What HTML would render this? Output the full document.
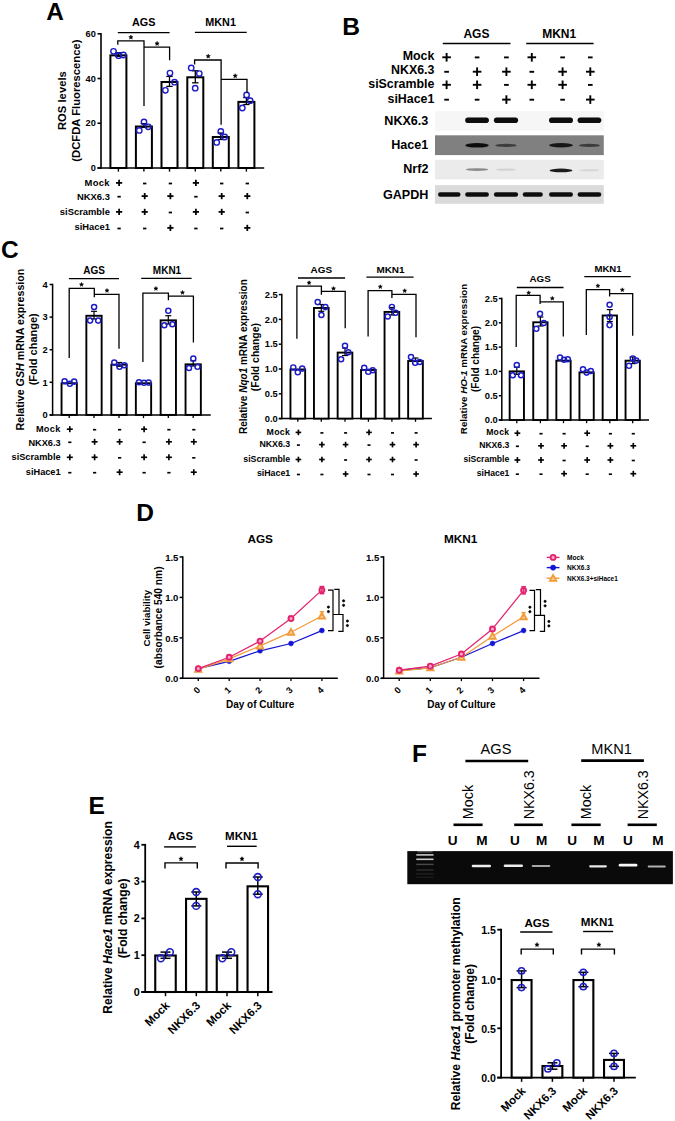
<!DOCTYPE html>
<html><head><meta charset="utf-8"><title>Figure</title>
<style>
html,body{margin:0;padding:0;background:#fff;}
body{width:675px;height:1121px;overflow:hidden;}
svg{display:block;font-family:"Liberation Sans", sans-serif;}
</style></head><body>
<svg width="675" height="1121" viewBox="0 0 675 1121">
<defs><filter id="gb" x="-0.1" y="-0.5" width="1.2" height="2"><feGaussianBlur stdDeviation="0.45"/></filter></defs>
<rect x="0" y="0" width="675" height="1121" fill="#fff"/>
<text x="46.3" y="19.5" font-size="24.4" font-weight="bold">A</text>
<line x1="101" y1="32.98" x2="101" y2="168.8" stroke="#000" stroke-width="1.6"/>
<line x1="97.5" y1="168" x2="101" y2="168" stroke="#000" stroke-width="1.6"/>
<text x="95.8" y="171.22" font-size="9.2" text-anchor="end" font-weight="bold">0</text>
<line x1="97.5" y1="123.26" x2="101" y2="123.26" stroke="#000" stroke-width="1.6"/>
<text x="95.8" y="126.48" font-size="9.2" text-anchor="end" font-weight="bold">20</text>
<line x1="97.5" y1="78.52" x2="101" y2="78.52" stroke="#000" stroke-width="1.6"/>
<text x="95.8" y="81.74" font-size="9.2" text-anchor="end" font-weight="bold">40</text>
<line x1="97.5" y1="33.78" x2="101" y2="33.78" stroke="#000" stroke-width="1.6"/>
<text x="95.8" y="37" font-size="9.2" text-anchor="end" font-weight="bold">60</text>
<line x1="97.5" y1="168" x2="264.2" y2="168" stroke="#000" stroke-width="1.6"/>
<line x1="118.4" y1="168" x2="118.4" y2="171.6" stroke="#000" stroke-width="1.4"/>
<line x1="143.9" y1="168" x2="143.9" y2="171.6" stroke="#000" stroke-width="1.4"/>
<line x1="169.5" y1="168" x2="169.5" y2="171.6" stroke="#000" stroke-width="1.4"/>
<line x1="195.3" y1="168" x2="195.3" y2="171.6" stroke="#000" stroke-width="1.4"/>
<line x1="220.8" y1="168" x2="220.8" y2="171.6" stroke="#000" stroke-width="1.4"/>
<line x1="246.4" y1="168" x2="246.4" y2="171.6" stroke="#000" stroke-width="1.4"/>
<rect x="110.4" y="55.36" width="16" height="112.64" fill="#fff" stroke="#000" stroke-width="2"/>
<rect x="135.9" y="126.5" width="16" height="41.5" fill="#fff" stroke="#000" stroke-width="2"/>
<rect x="161.5" y="81.98" width="16" height="86.02" fill="#fff" stroke="#000" stroke-width="2"/>
<rect x="187.3" y="77.28" width="16" height="90.72" fill="#fff" stroke="#000" stroke-width="2"/>
<rect x="212.8" y="137.01" width="16" height="30.99" fill="#fff" stroke="#000" stroke-width="2"/>
<rect x="238.4" y="101.89" width="16" height="66.11" fill="#fff" stroke="#000" stroke-width="2"/>
<line x1="118.4" y1="52.7" x2="118.4" y2="56.3" stroke="#000" stroke-width="1.3"/>
<line x1="115.2" y1="52.7" x2="121.6" y2="52.7" stroke="#000" stroke-width="1.3"/>
<line x1="115.2" y1="56.3" x2="121.6" y2="56.3" stroke="#000" stroke-width="1.3"/>
<line x1="143.9" y1="123.6" x2="143.9" y2="127.4" stroke="#000" stroke-width="1.3"/>
<line x1="140.7" y1="123.6" x2="147.1" y2="123.6" stroke="#000" stroke-width="1.3"/>
<line x1="140.7" y1="127.4" x2="147.1" y2="127.4" stroke="#000" stroke-width="1.3"/>
<line x1="169.5" y1="76.4" x2="169.5" y2="86.4" stroke="#000" stroke-width="1.3"/>
<line x1="166.3" y1="76.4" x2="172.7" y2="76.4" stroke="#000" stroke-width="1.3"/>
<line x1="166.3" y1="86.4" x2="172.7" y2="86.4" stroke="#000" stroke-width="1.3"/>
<line x1="195.3" y1="70.8" x2="195.3" y2="82.8" stroke="#000" stroke-width="1.3"/>
<line x1="192.1" y1="70.8" x2="198.5" y2="70.8" stroke="#000" stroke-width="1.3"/>
<line x1="192.1" y1="82.8" x2="198.5" y2="82.8" stroke="#000" stroke-width="1.3"/>
<line x1="220.8" y1="133" x2="220.8" y2="139.5" stroke="#000" stroke-width="1.3"/>
<line x1="217.6" y1="133" x2="224" y2="133" stroke="#000" stroke-width="1.3"/>
<line x1="217.6" y1="139.5" x2="224" y2="139.5" stroke="#000" stroke-width="1.3"/>
<line x1="246.4" y1="97.6" x2="246.4" y2="104.5" stroke="#000" stroke-width="1.3"/>
<line x1="243.2" y1="97.6" x2="249.6" y2="97.6" stroke="#000" stroke-width="1.3"/>
<line x1="243.2" y1="104.5" x2="249.6" y2="104.5" stroke="#000" stroke-width="1.3"/>
<circle cx="113.5" cy="51.3" r="2.7" stroke="#1c1cc8" stroke-width="1.4" fill="none"/>
<circle cx="118.6" cy="55.7" r="2.7" stroke="#1c1cc8" stroke-width="1.4" fill="none"/>
<circle cx="123.4" cy="55" r="2.7" stroke="#1c1cc8" stroke-width="1.4" fill="none"/>
<circle cx="139.3" cy="130.4" r="2.7" stroke="#1c1cc8" stroke-width="1.4" fill="none"/>
<circle cx="144" cy="121.9" r="2.7" stroke="#1c1cc8" stroke-width="1.4" fill="none"/>
<circle cx="148.3" cy="126.8" r="2.7" stroke="#1c1cc8" stroke-width="1.4" fill="none"/>
<circle cx="165.4" cy="90.3" r="2.7" stroke="#1c1cc8" stroke-width="1.4" fill="none"/>
<circle cx="170" cy="73.1" r="2.7" stroke="#1c1cc8" stroke-width="1.4" fill="none"/>
<circle cx="174.5" cy="82.2" r="2.7" stroke="#1c1cc8" stroke-width="1.4" fill="none"/>
<circle cx="191.2" cy="67.9" r="2.7" stroke="#1c1cc8" stroke-width="1.4" fill="none"/>
<circle cx="199.3" cy="73.6" r="2.7" stroke="#1c1cc8" stroke-width="1.4" fill="none"/>
<circle cx="195.2" cy="88.2" r="2.7" stroke="#1c1cc8" stroke-width="1.4" fill="none"/>
<circle cx="220.8" cy="131.5" r="2.7" stroke="#1c1cc8" stroke-width="1.4" fill="none"/>
<circle cx="224.7" cy="137" r="2.7" stroke="#1c1cc8" stroke-width="1.4" fill="none"/>
<circle cx="216.7" cy="142.4" r="2.7" stroke="#1c1cc8" stroke-width="1.4" fill="none"/>
<circle cx="246.6" cy="94.9" r="2.7" stroke="#1c1cc8" stroke-width="1.4" fill="none"/>
<circle cx="250.2" cy="100.7" r="2.7" stroke="#1c1cc8" stroke-width="1.4" fill="none"/>
<circle cx="242.3" cy="108" r="2.7" stroke="#1c1cc8" stroke-width="1.4" fill="none"/>
<text x="143.7" y="26.3" font-size="10.8" text-anchor="middle" font-weight="bold">AGS</text>
<text x="220.6" y="26.3" font-size="10.8" text-anchor="middle" font-weight="bold">MKN1</text>
<line x1="117.8" y1="32.6" x2="169.6" y2="32.6" stroke="#000" stroke-width="1.3"/>
<line x1="194.9" y1="32.3" x2="246.7" y2="32.3" stroke="#000" stroke-width="1.3"/>
<path d="M117.8 44.8 L117.8 40.9 L144 40.9 L144 106" stroke="#000" stroke-width="1.3" fill="none" stroke-linejoin="miter"/>
<path d="M144 47.1 L144 47.1 L169.6 47.1 L169.6 60.2" stroke="#000" stroke-width="1.3" fill="none" stroke-linejoin="miter"/>
<path d="M194.6 64.6 L194.6 60 L221.1 60 L221.1 124.8" stroke="#000" stroke-width="1.3" fill="none" stroke-linejoin="miter"/>
<path d="M221.1 79.3 L221.1 79.3 L247 79.3 L247 92.8" stroke="#000" stroke-width="1.3" fill="none" stroke-linejoin="miter"/>
<path d="M130.9 35.06 L131.49 36.48 L133.03 36.61 L131.86 37.61 L132.22 39.11 L130.9 38.31 L129.58 39.11 L129.94 37.61 L128.77 36.61 L130.31 36.48 Z" stroke="#000" stroke-width="0.5" fill="#000" stroke-linejoin="miter"/>
<path d="M157.1 41.36 L157.69 42.78 L159.23 42.91 L158.06 43.91 L158.42 45.41 L157.1 44.61 L155.78 45.41 L156.14 43.91 L154.97 42.91 L156.51 42.78 Z" stroke="#000" stroke-width="0.5" fill="#000" stroke-linejoin="miter"/>
<path d="M208.2 54.06 L208.79 55.48 L210.33 55.61 L209.16 56.61 L209.52 58.11 L208.2 57.31 L206.88 58.11 L207.24 56.61 L206.07 55.61 L207.61 55.48 Z" stroke="#000" stroke-width="0.5" fill="#000" stroke-linejoin="miter"/>
<path d="M235.2 73.66 L235.79 75.08 L237.33 75.21 L236.16 76.21 L236.52 77.71 L235.2 76.91 L233.88 77.71 L234.24 76.21 L233.07 75.21 L234.61 75.08 Z" stroke="#000" stroke-width="0.5" fill="#000" stroke-linejoin="miter"/>
<text x="65.8" y="100.6" font-size="11.25" text-anchor="middle" font-weight="bold" transform="rotate(-90 65.8 100.6)">ROS levels</text>
<text x="79.8" y="100.6" font-size="11.25" text-anchor="middle" font-weight="bold" transform="rotate(-90 79.8 100.6)">(DCFDA Fluorescence)</text>
<text x="109.9" y="185.8" font-size="9.4" text-anchor="end" font-weight="bold" letter-spacing="0.35">Mock</text>
<text x="109.9" y="199.6" font-size="9.4" text-anchor="end" font-weight="bold">NKX6.3</text>
<text x="109.9" y="214.8" font-size="9.4" text-anchor="end" font-weight="bold">siScramble</text>
<text x="109.9" y="230.4" font-size="9.4" text-anchor="end" font-weight="bold">siHace1</text>
<line x1="116" y1="182.9" x2="122.2" y2="182.9" stroke="#000" stroke-width="1.75"/>
<line x1="119.1" y1="179.8" x2="119.1" y2="186" stroke="#000" stroke-width="1.75"/>
<line x1="143.03" y1="183.5" x2="146.37" y2="183.5" stroke="#000" stroke-width="1.75"/>
<line x1="168.73" y1="183.5" x2="172.07" y2="183.5" stroke="#000" stroke-width="1.75"/>
<line x1="192.8" y1="182.9" x2="199" y2="182.9" stroke="#000" stroke-width="1.75"/>
<line x1="195.9" y1="179.8" x2="195.9" y2="186" stroke="#000" stroke-width="1.75"/>
<line x1="220.03" y1="183.5" x2="223.37" y2="183.5" stroke="#000" stroke-width="1.75"/>
<line x1="245.63" y1="183.5" x2="248.97" y2="183.5" stroke="#000" stroke-width="1.75"/>
<line x1="117.43" y1="196.7" x2="120.77" y2="196.7" stroke="#000" stroke-width="1.75"/>
<line x1="141.6" y1="196.1" x2="147.8" y2="196.1" stroke="#000" stroke-width="1.75"/>
<line x1="144.7" y1="193" x2="144.7" y2="199.2" stroke="#000" stroke-width="1.75"/>
<line x1="167.3" y1="196.1" x2="173.5" y2="196.1" stroke="#000" stroke-width="1.75"/>
<line x1="170.4" y1="193" x2="170.4" y2="199.2" stroke="#000" stroke-width="1.75"/>
<line x1="194.23" y1="196.7" x2="197.57" y2="196.7" stroke="#000" stroke-width="1.75"/>
<line x1="218.6" y1="196.1" x2="224.8" y2="196.1" stroke="#000" stroke-width="1.75"/>
<line x1="221.7" y1="193" x2="221.7" y2="199.2" stroke="#000" stroke-width="1.75"/>
<line x1="244.2" y1="196.1" x2="250.4" y2="196.1" stroke="#000" stroke-width="1.75"/>
<line x1="247.3" y1="193" x2="247.3" y2="199.2" stroke="#000" stroke-width="1.75"/>
<line x1="116" y1="211.9" x2="122.2" y2="211.9" stroke="#000" stroke-width="1.75"/>
<line x1="119.1" y1="208.8" x2="119.1" y2="215" stroke="#000" stroke-width="1.75"/>
<line x1="141.6" y1="211.9" x2="147.8" y2="211.9" stroke="#000" stroke-width="1.75"/>
<line x1="144.7" y1="208.8" x2="144.7" y2="215" stroke="#000" stroke-width="1.75"/>
<line x1="168.73" y1="212.5" x2="172.07" y2="212.5" stroke="#000" stroke-width="1.75"/>
<line x1="192.8" y1="211.9" x2="199" y2="211.9" stroke="#000" stroke-width="1.75"/>
<line x1="195.9" y1="208.8" x2="195.9" y2="215" stroke="#000" stroke-width="1.75"/>
<line x1="218.6" y1="211.9" x2="224.8" y2="211.9" stroke="#000" stroke-width="1.75"/>
<line x1="221.7" y1="208.8" x2="221.7" y2="215" stroke="#000" stroke-width="1.75"/>
<line x1="245.63" y1="212.5" x2="248.97" y2="212.5" stroke="#000" stroke-width="1.75"/>
<line x1="117.43" y1="228.5" x2="120.77" y2="228.5" stroke="#000" stroke-width="1.75"/>
<line x1="143.03" y1="228.5" x2="146.37" y2="228.5" stroke="#000" stroke-width="1.75"/>
<line x1="167.3" y1="227.9" x2="173.5" y2="227.9" stroke="#000" stroke-width="1.75"/>
<line x1="170.4" y1="224.8" x2="170.4" y2="231" stroke="#000" stroke-width="1.75"/>
<line x1="194.23" y1="228.5" x2="197.57" y2="228.5" stroke="#000" stroke-width="1.75"/>
<line x1="220.03" y1="228.5" x2="223.37" y2="228.5" stroke="#000" stroke-width="1.75"/>
<line x1="244.2" y1="227.9" x2="250.4" y2="227.9" stroke="#000" stroke-width="1.75"/>
<line x1="247.3" y1="224.8" x2="247.3" y2="231" stroke="#000" stroke-width="1.75"/>
<text x="342.3" y="34.6" font-size="24.6" font-weight="bold">B</text>
<text x="476.4" y="37.8" font-size="12" text-anchor="middle" font-weight="bold">AGS</text>
<text x="559.2" y="37.6" font-size="12" text-anchor="middle" font-weight="bold">MKN1</text>
<line x1="442.8" y1="43.5" x2="510.5" y2="43.5" stroke="#000" stroke-width="1.5"/>
<line x1="526.2" y1="43.4" x2="593.6" y2="43.4" stroke="#000" stroke-width="1.5"/>
<text x="434.4" y="59.5" font-size="12.4" text-anchor="end" font-weight="bold">Mock</text>
<text x="434.4" y="73.8" font-size="12.4" text-anchor="end" font-weight="bold">NKX6.3</text>
<text x="434.4" y="88" font-size="12.4" text-anchor="end" font-weight="bold">siScramble</text>
<text x="434.4" y="102.7" font-size="12.4" text-anchor="end" font-weight="bold">siHace1</text>
<line x1="442.3" y1="57.3" x2="450.9" y2="57.3" stroke="#000" stroke-width="1.9"/>
<line x1="446.6" y1="53" x2="446.6" y2="61.6" stroke="#000" stroke-width="1.9"/>
<line x1="474.78" y1="57.4" x2="479.42" y2="57.4" stroke="#000" stroke-width="1.9"/>
<line x1="504.08" y1="57.4" x2="508.72" y2="57.4" stroke="#000" stroke-width="1.9"/>
<line x1="527.5" y1="57.3" x2="536.1" y2="57.3" stroke="#000" stroke-width="1.9"/>
<line x1="531.8" y1="53" x2="531.8" y2="61.6" stroke="#000" stroke-width="1.9"/>
<line x1="560.28" y1="57.4" x2="564.92" y2="57.4" stroke="#000" stroke-width="1.9"/>
<line x1="587.98" y1="57.4" x2="592.62" y2="57.4" stroke="#000" stroke-width="1.9"/>
<line x1="444.28" y1="71.8" x2="448.92" y2="71.8" stroke="#000" stroke-width="1.9"/>
<line x1="472.8" y1="71.7" x2="481.4" y2="71.7" stroke="#000" stroke-width="1.9"/>
<line x1="477.1" y1="67.4" x2="477.1" y2="76" stroke="#000" stroke-width="1.9"/>
<line x1="502.1" y1="71.7" x2="510.7" y2="71.7" stroke="#000" stroke-width="1.9"/>
<line x1="506.4" y1="67.4" x2="506.4" y2="76" stroke="#000" stroke-width="1.9"/>
<line x1="529.48" y1="71.8" x2="534.12" y2="71.8" stroke="#000" stroke-width="1.9"/>
<line x1="558.3" y1="71.7" x2="566.9" y2="71.7" stroke="#000" stroke-width="1.9"/>
<line x1="562.6" y1="67.4" x2="562.6" y2="76" stroke="#000" stroke-width="1.9"/>
<line x1="586" y1="71.7" x2="594.6" y2="71.7" stroke="#000" stroke-width="1.9"/>
<line x1="590.3" y1="67.4" x2="590.3" y2="76" stroke="#000" stroke-width="1.9"/>
<line x1="442.3" y1="84.8" x2="450.9" y2="84.8" stroke="#000" stroke-width="1.9"/>
<line x1="446.6" y1="80.5" x2="446.6" y2="89.1" stroke="#000" stroke-width="1.9"/>
<line x1="472.8" y1="84.8" x2="481.4" y2="84.8" stroke="#000" stroke-width="1.9"/>
<line x1="477.1" y1="80.5" x2="477.1" y2="89.1" stroke="#000" stroke-width="1.9"/>
<line x1="504.08" y1="84.9" x2="508.72" y2="84.9" stroke="#000" stroke-width="1.9"/>
<line x1="527.5" y1="84.8" x2="536.1" y2="84.8" stroke="#000" stroke-width="1.9"/>
<line x1="531.8" y1="80.5" x2="531.8" y2="89.1" stroke="#000" stroke-width="1.9"/>
<line x1="558.3" y1="84.8" x2="566.9" y2="84.8" stroke="#000" stroke-width="1.9"/>
<line x1="562.6" y1="80.5" x2="562.6" y2="89.1" stroke="#000" stroke-width="1.9"/>
<line x1="587.98" y1="84.9" x2="592.62" y2="84.9" stroke="#000" stroke-width="1.9"/>
<line x1="444.28" y1="99.7" x2="448.92" y2="99.7" stroke="#000" stroke-width="1.9"/>
<line x1="474.78" y1="99.7" x2="479.42" y2="99.7" stroke="#000" stroke-width="1.9"/>
<line x1="502.1" y1="99.6" x2="510.7" y2="99.6" stroke="#000" stroke-width="1.9"/>
<line x1="506.4" y1="95.3" x2="506.4" y2="103.9" stroke="#000" stroke-width="1.9"/>
<line x1="529.48" y1="99.7" x2="534.12" y2="99.7" stroke="#000" stroke-width="1.9"/>
<line x1="560.28" y1="99.7" x2="564.92" y2="99.7" stroke="#000" stroke-width="1.9"/>
<line x1="586" y1="99.6" x2="594.6" y2="99.6" stroke="#000" stroke-width="1.9"/>
<line x1="590.3" y1="95.3" x2="590.3" y2="103.9" stroke="#000" stroke-width="1.9"/>
<rect x="435" y="111.3" width="168.8" height="19.4" fill="#f6f6f6"/>
<rect x="435" y="135.3" width="168.8" height="19.8" fill="#808080"/>
<rect x="435" y="159.8" width="168.8" height="19.6" fill="#ebebeb"/>
<rect x="435" y="185.1" width="168.8" height="18.7" fill="#dadada"/>
<g filter="url(#gb)">
<rect x="465.2" y="117.5" width="23.7" height="5.6" fill="#0a0a0a" rx="2.8" opacity="1"/>
<rect x="493.9" y="117.5" width="24.2" height="5.6" fill="#0a0a0a" rx="2.8" opacity="1"/>
<rect x="549" y="117.5" width="24" height="5.6" fill="#0a0a0a" rx="2.8" opacity="1"/>
<rect x="577.6" y="117.5" width="23.7" height="5.6" fill="#0a0a0a" rx="2.8" opacity="1"/>
<ellipse cx="477.05" cy="145.3" rx="11.85" ry="2.3" fill="#111111" opacity="1"/>
<ellipse cx="506" cy="145.4" rx="10.6" ry="1.7" fill="#3c3c3c" opacity="1"/>
<ellipse cx="561" cy="145.3" rx="12" ry="2.2" fill="#161616" opacity="1"/>
<ellipse cx="589.45" cy="145.4" rx="10.35" ry="1.7" fill="#3a3a3a" opacity="1"/>
<ellipse cx="477.05" cy="169.6" rx="11.35" ry="1.4" fill="#8a8a8a" opacity="1"/>
<ellipse cx="506" cy="169.6" rx="10.1" ry="1.1" fill="#d2d2d2" opacity="1"/>
<ellipse cx="561" cy="170.4" rx="11.5" ry="1.8" fill="#1e1e1e" opacity="1"/>
<ellipse cx="589.45" cy="170.3" rx="9.85" ry="1" fill="#d4d4d4" opacity="1"/>
<rect x="438" y="192.2" width="22.5" height="4.6" fill="#0c0c0c" rx="2.3" opacity="1"/>
<rect x="465.2" y="192.2" width="23.7" height="4.6" fill="#0c0c0c" rx="2.3" opacity="1"/>
<rect x="493.9" y="192.2" width="24.2" height="4.6" fill="#0c0c0c" rx="2.3" opacity="1"/>
<rect x="522.7" y="192.2" width="20.1" height="4.6" fill="#0c0c0c" rx="2.3" opacity="1"/>
<rect x="549" y="192.2" width="24" height="4.6" fill="#0c0c0c" rx="2.3" opacity="1"/>
<rect x="577.6" y="192.2" width="23.7" height="4.6" fill="#0c0c0c" rx="2.3" opacity="1"/>
</g>
<text x="428.4" y="124.6" font-size="12.6" text-anchor="end" font-weight="bold">NKX6.3</text>
<text x="428.4" y="148.7" font-size="12.6" text-anchor="end" font-weight="bold">Hace1</text>
<text x="428.4" y="173.1" font-size="12.6" text-anchor="end" font-weight="bold">Nrf2</text>
<text x="428.4" y="198.8" font-size="12.6" text-anchor="end" font-weight="bold">GAPDH</text>
<text x="0.9" y="258" font-size="24.5" font-weight="bold">C</text>
<line x1="52.6" y1="283.75" x2="52.6" y2="415.65" stroke="#000" stroke-width="1.5"/>
<line x1="49.6" y1="414.9" x2="52.6" y2="414.9" stroke="#000" stroke-width="1.5"/>
<text x="47.7" y="418.15" font-size="9.3" text-anchor="end" font-weight="bold">0</text>
<line x1="49.6" y1="382.3" x2="52.6" y2="382.3" stroke="#000" stroke-width="1.5"/>
<text x="47.7" y="385.55" font-size="9.3" text-anchor="end" font-weight="bold">1</text>
<line x1="49.6" y1="349.7" x2="52.6" y2="349.7" stroke="#000" stroke-width="1.5"/>
<text x="47.7" y="352.95" font-size="9.3" text-anchor="end" font-weight="bold">2</text>
<line x1="49.6" y1="317.1" x2="52.6" y2="317.1" stroke="#000" stroke-width="1.5"/>
<text x="47.7" y="320.35" font-size="9.3" text-anchor="end" font-weight="bold">3</text>
<line x1="49.6" y1="284.5" x2="52.6" y2="284.5" stroke="#000" stroke-width="1.5"/>
<text x="47.7" y="287.75" font-size="9.3" text-anchor="end" font-weight="bold">4</text>
<line x1="49.6" y1="414.9" x2="210.7" y2="414.9" stroke="#000" stroke-width="1.5"/>
<line x1="69.2" y1="414.9" x2="69.2" y2="418.1" stroke="#000" stroke-width="1.3"/>
<line x1="94" y1="414.9" x2="94" y2="418.1" stroke="#000" stroke-width="1.3"/>
<line x1="119" y1="414.9" x2="119" y2="418.1" stroke="#000" stroke-width="1.3"/>
<line x1="143.5" y1="414.9" x2="143.5" y2="418.1" stroke="#000" stroke-width="1.3"/>
<line x1="168.3" y1="414.9" x2="168.3" y2="418.1" stroke="#000" stroke-width="1.3"/>
<line x1="193.2" y1="414.9" x2="193.2" y2="418.1" stroke="#000" stroke-width="1.3"/>
<rect x="61.55" y="383.25" width="15.3" height="31.65" fill="#fff" stroke="#000" stroke-width="1.9"/>
<rect x="86.35" y="315.77" width="15.3" height="99.13" fill="#fff" stroke="#000" stroke-width="1.9"/>
<rect x="111.35" y="364.67" width="15.3" height="50.23" fill="#fff" stroke="#000" stroke-width="1.9"/>
<rect x="135.85" y="383.25" width="15.3" height="31.65" fill="#fff" stroke="#000" stroke-width="1.9"/>
<rect x="160.65" y="320.33" width="15.3" height="94.57" fill="#fff" stroke="#000" stroke-width="1.9"/>
<rect x="185.55" y="364.34" width="15.3" height="50.56" fill="#fff" stroke="#000" stroke-width="1.9"/>
<line x1="94" y1="311.3" x2="94" y2="319" stroke="#000" stroke-width="1.2"/>
<line x1="91" y1="311.3" x2="97" y2="311.3" stroke="#000" stroke-width="1.2"/>
<line x1="91" y1="319" x2="97" y2="319" stroke="#000" stroke-width="1.2"/>
<line x1="119" y1="362.5" x2="119" y2="366.3" stroke="#000" stroke-width="1.2"/>
<line x1="116" y1="362.5" x2="122" y2="362.5" stroke="#000" stroke-width="1.2"/>
<line x1="116" y1="366.3" x2="122" y2="366.3" stroke="#000" stroke-width="1.2"/>
<line x1="168.3" y1="315.7" x2="168.3" y2="324" stroke="#000" stroke-width="1.2"/>
<line x1="165.3" y1="315.7" x2="171.3" y2="315.7" stroke="#000" stroke-width="1.2"/>
<line x1="165.3" y1="324" x2="171.3" y2="324" stroke="#000" stroke-width="1.2"/>
<line x1="193.2" y1="360.8" x2="193.2" y2="366" stroke="#000" stroke-width="1.2"/>
<line x1="190.2" y1="360.8" x2="196.2" y2="360.8" stroke="#000" stroke-width="1.2"/>
<line x1="190.2" y1="366" x2="196.2" y2="366" stroke="#000" stroke-width="1.2"/>
<circle cx="64.6" cy="381.2" r="2.55" stroke="#1c1cc8" stroke-width="1.45" fill="none"/>
<circle cx="69.8" cy="383.8" r="2.55" stroke="#1c1cc8" stroke-width="1.45" fill="none"/>
<circle cx="74.2" cy="381.6" r="2.55" stroke="#1c1cc8" stroke-width="1.45" fill="none"/>
<circle cx="94.1" cy="307" r="2.55" stroke="#1c1cc8" stroke-width="1.45" fill="none"/>
<circle cx="90.1" cy="320.6" r="2.55" stroke="#1c1cc8" stroke-width="1.45" fill="none"/>
<circle cx="98.2" cy="320.6" r="2.55" stroke="#1c1cc8" stroke-width="1.45" fill="none"/>
<circle cx="114.3" cy="362.6" r="2.55" stroke="#1c1cc8" stroke-width="1.45" fill="none"/>
<circle cx="119.5" cy="366.8" r="2.55" stroke="#1c1cc8" stroke-width="1.45" fill="none"/>
<circle cx="124.3" cy="365.2" r="2.55" stroke="#1c1cc8" stroke-width="1.45" fill="none"/>
<circle cx="139" cy="382.2" r="2.55" stroke="#1c1cc8" stroke-width="1.45" fill="none"/>
<circle cx="144" cy="382.8" r="2.55" stroke="#1c1cc8" stroke-width="1.45" fill="none"/>
<circle cx="148.6" cy="382.6" r="2.55" stroke="#1c1cc8" stroke-width="1.45" fill="none"/>
<circle cx="168.3" cy="310.8" r="2.55" stroke="#1c1cc8" stroke-width="1.45" fill="none"/>
<circle cx="164.3" cy="325.2" r="2.55" stroke="#1c1cc8" stroke-width="1.45" fill="none"/>
<circle cx="172.3" cy="324.2" r="2.55" stroke="#1c1cc8" stroke-width="1.45" fill="none"/>
<circle cx="193.3" cy="358.6" r="2.55" stroke="#1c1cc8" stroke-width="1.45" fill="none"/>
<circle cx="189" cy="368" r="2.55" stroke="#1c1cc8" stroke-width="1.45" fill="none"/>
<circle cx="197.5" cy="366.8" r="2.55" stroke="#1c1cc8" stroke-width="1.45" fill="none"/>
<text x="94" y="273.5" font-size="10" text-anchor="middle" font-weight="bold">AGS</text>
<text x="167" y="273.8" font-size="10" text-anchor="middle" font-weight="bold">MKN1</text>
<line x1="68.9" y1="278.6" x2="119" y2="278.6" stroke="#000" stroke-width="1.3"/>
<line x1="141.2" y1="278.4" x2="191.6" y2="278.4" stroke="#000" stroke-width="1.3"/>
<path d="M69.2 358.1 L69.2 288.3 L94.3 288.3 L94.3 297.2" stroke="#000" stroke-width="1.3" fill="none" stroke-linejoin="miter"/>
<path d="M94.3 294.3 L94.3 294.3 L119 294.3 L119 348.8" stroke="#000" stroke-width="1.3" fill="none" stroke-linejoin="miter"/>
<path d="M142.9 361.9 L142.9 293.2 L168.4 293.2 L168.4 300.2" stroke="#000" stroke-width="1.3" fill="none" stroke-linejoin="miter"/>
<path d="M168.4 296.2 L168.4 296.2 L193.4 296.2 L193.4 342.4" stroke="#000" stroke-width="1.3" fill="none" stroke-linejoin="miter"/>
<path d="M81.5 282.5 L82.06 283.84 L83.5 283.95 L82.4 284.89 L82.73 286.3 L81.5 285.55 L80.27 286.3 L80.6 284.89 L79.5 283.95 L80.94 283.84 Z" stroke="#000" stroke-width="0.5" fill="#000" stroke-linejoin="miter"/>
<path d="M107 288.5 L107.56 289.84 L109 289.95 L107.9 290.89 L108.23 292.3 L107 291.55 L105.77 292.3 L106.1 290.89 L105 289.95 L106.44 289.84 Z" stroke="#000" stroke-width="0.5" fill="#000" stroke-linejoin="miter"/>
<path d="M155.9 286.5 L156.46 287.84 L157.9 287.95 L156.8 288.89 L157.13 290.3 L155.9 289.55 L154.67 290.3 L155 288.89 L153.9 287.95 L155.34 287.84 Z" stroke="#000" stroke-width="0.5" fill="#000" stroke-linejoin="miter"/>
<path d="M182.5 290.5 L183.06 291.84 L184.5 291.95 L183.4 292.89 L183.73 294.3 L182.5 293.55 L181.27 294.3 L181.6 292.89 L180.5 291.95 L181.94 291.84 Z" stroke="#000" stroke-width="0.5" fill="#000" stroke-linejoin="miter"/>
<text x="24.3" y="349.5" font-size="10.7" font-weight="bold" text-anchor="middle" transform="rotate(-90 24.3 349.5)">Relative <tspan font-style="italic">GSH</tspan> mRNA expression</text>
<text x="36.6" y="349.3" font-size="11" text-anchor="middle" font-weight="bold" transform="rotate(-90 36.6 349.3)">(Fold change)</text>
<text x="60.6" y="432" font-size="9.2" text-anchor="end" font-weight="bold" letter-spacing="0.3">Mock</text>
<text x="60.6" y="445.6" font-size="9.2" text-anchor="end" font-weight="bold">NKX6.3</text>
<text x="60.6" y="459.8" font-size="9.2" text-anchor="end" font-weight="bold">siScramble</text>
<text x="60.6" y="474.9" font-size="9.2" text-anchor="end" font-weight="bold">siHace1</text>
<line x1="66.8" y1="429.2" x2="72.8" y2="429.2" stroke="#000" stroke-width="1.65"/>
<line x1="69.8" y1="426.2" x2="69.8" y2="432.2" stroke="#000" stroke-width="1.65"/>
<line x1="92.98" y1="429.7" x2="96.22" y2="429.7" stroke="#000" stroke-width="1.65"/>
<line x1="117.98" y1="429.7" x2="121.22" y2="429.7" stroke="#000" stroke-width="1.65"/>
<line x1="141.1" y1="429.2" x2="147.1" y2="429.2" stroke="#000" stroke-width="1.65"/>
<line x1="144.1" y1="426.2" x2="144.1" y2="432.2" stroke="#000" stroke-width="1.65"/>
<line x1="167.28" y1="429.7" x2="170.52" y2="429.7" stroke="#000" stroke-width="1.65"/>
<line x1="192.18" y1="429.7" x2="195.42" y2="429.7" stroke="#000" stroke-width="1.65"/>
<line x1="68.18" y1="442.3" x2="71.42" y2="442.3" stroke="#000" stroke-width="1.65"/>
<line x1="91.6" y1="441.8" x2="97.6" y2="441.8" stroke="#000" stroke-width="1.65"/>
<line x1="94.6" y1="438.8" x2="94.6" y2="444.8" stroke="#000" stroke-width="1.65"/>
<line x1="116.6" y1="441.8" x2="122.6" y2="441.8" stroke="#000" stroke-width="1.65"/>
<line x1="119.6" y1="438.8" x2="119.6" y2="444.8" stroke="#000" stroke-width="1.65"/>
<line x1="142.48" y1="442.3" x2="145.72" y2="442.3" stroke="#000" stroke-width="1.65"/>
<line x1="165.9" y1="441.8" x2="171.9" y2="441.8" stroke="#000" stroke-width="1.65"/>
<line x1="168.9" y1="438.8" x2="168.9" y2="444.8" stroke="#000" stroke-width="1.65"/>
<line x1="190.8" y1="441.8" x2="196.8" y2="441.8" stroke="#000" stroke-width="1.65"/>
<line x1="193.8" y1="438.8" x2="193.8" y2="444.8" stroke="#000" stroke-width="1.65"/>
<line x1="66.8" y1="457.3" x2="72.8" y2="457.3" stroke="#000" stroke-width="1.65"/>
<line x1="69.8" y1="454.3" x2="69.8" y2="460.3" stroke="#000" stroke-width="1.65"/>
<line x1="91.6" y1="457.3" x2="97.6" y2="457.3" stroke="#000" stroke-width="1.65"/>
<line x1="94.6" y1="454.3" x2="94.6" y2="460.3" stroke="#000" stroke-width="1.65"/>
<line x1="117.98" y1="457.8" x2="121.22" y2="457.8" stroke="#000" stroke-width="1.65"/>
<line x1="141.1" y1="457.3" x2="147.1" y2="457.3" stroke="#000" stroke-width="1.65"/>
<line x1="144.1" y1="454.3" x2="144.1" y2="460.3" stroke="#000" stroke-width="1.65"/>
<line x1="165.9" y1="457.3" x2="171.9" y2="457.3" stroke="#000" stroke-width="1.65"/>
<line x1="168.9" y1="454.3" x2="168.9" y2="460.3" stroke="#000" stroke-width="1.65"/>
<line x1="192.18" y1="457.8" x2="195.42" y2="457.8" stroke="#000" stroke-width="1.65"/>
<line x1="68.18" y1="472.7" x2="71.42" y2="472.7" stroke="#000" stroke-width="1.65"/>
<line x1="92.98" y1="472.7" x2="96.22" y2="472.7" stroke="#000" stroke-width="1.65"/>
<line x1="116.6" y1="472.2" x2="122.6" y2="472.2" stroke="#000" stroke-width="1.65"/>
<line x1="119.6" y1="469.2" x2="119.6" y2="475.2" stroke="#000" stroke-width="1.65"/>
<line x1="142.48" y1="472.7" x2="145.72" y2="472.7" stroke="#000" stroke-width="1.65"/>
<line x1="167.28" y1="472.7" x2="170.52" y2="472.7" stroke="#000" stroke-width="1.65"/>
<line x1="190.8" y1="472.2" x2="196.8" y2="472.2" stroke="#000" stroke-width="1.65"/>
<line x1="193.8" y1="469.2" x2="193.8" y2="475.2" stroke="#000" stroke-width="1.65"/>
<line x1="281.8" y1="293.85" x2="281.8" y2="419.35" stroke="#000" stroke-width="1.5"/>
<line x1="278.8" y1="418.6" x2="281.8" y2="418.6" stroke="#000" stroke-width="1.5"/>
<text x="277.7" y="421.86" font-size="9.3" text-anchor="end" font-weight="bold">0.0</text>
<line x1="278.8" y1="393.8" x2="281.8" y2="393.8" stroke="#000" stroke-width="1.5"/>
<text x="277.7" y="397.06" font-size="9.3" text-anchor="end" font-weight="bold">0.5</text>
<line x1="278.8" y1="369" x2="281.8" y2="369" stroke="#000" stroke-width="1.5"/>
<text x="277.7" y="372.25" font-size="9.3" text-anchor="end" font-weight="bold">1.0</text>
<line x1="278.8" y1="344.2" x2="281.8" y2="344.2" stroke="#000" stroke-width="1.5"/>
<text x="277.7" y="347.46" font-size="9.3" text-anchor="end" font-weight="bold">1.5</text>
<line x1="278.8" y1="319.4" x2="281.8" y2="319.4" stroke="#000" stroke-width="1.5"/>
<text x="277.7" y="322.66" font-size="9.3" text-anchor="end" font-weight="bold">2.0</text>
<line x1="278.8" y1="294.6" x2="281.8" y2="294.6" stroke="#000" stroke-width="1.5"/>
<text x="277.7" y="297.86" font-size="9.3" text-anchor="end" font-weight="bold">2.5</text>
<line x1="278.8" y1="418.6" x2="431.9" y2="418.6" stroke="#000" stroke-width="1.5"/>
<line x1="297.8" y1="418.6" x2="297.8" y2="421.8" stroke="#000" stroke-width="1.3"/>
<line x1="321.3" y1="418.6" x2="321.3" y2="421.8" stroke="#000" stroke-width="1.3"/>
<line x1="345" y1="418.6" x2="345" y2="421.8" stroke="#000" stroke-width="1.3"/>
<line x1="368.4" y1="418.6" x2="368.4" y2="421.8" stroke="#000" stroke-width="1.3"/>
<line x1="391.9" y1="418.6" x2="391.9" y2="421.8" stroke="#000" stroke-width="1.3"/>
<line x1="415.5" y1="418.6" x2="415.5" y2="421.8" stroke="#000" stroke-width="1.3"/>
<rect x="290.45" y="369.45" width="14.7" height="49.15" fill="#fff" stroke="#000" stroke-width="1.9"/>
<rect x="313.95" y="307.95" width="14.7" height="110.65" fill="#fff" stroke="#000" stroke-width="1.9"/>
<rect x="337.65" y="352.59" width="14.7" height="66.01" fill="#fff" stroke="#000" stroke-width="1.9"/>
<rect x="361.05" y="369.95" width="14.7" height="48.65" fill="#fff" stroke="#000" stroke-width="1.9"/>
<rect x="384.55" y="311.92" width="14.7" height="106.68" fill="#fff" stroke="#000" stroke-width="1.9"/>
<rect x="408.15" y="361.02" width="14.7" height="57.58" fill="#fff" stroke="#000" stroke-width="1.9"/>
<line x1="321.3" y1="304.5" x2="321.3" y2="311.3" stroke="#000" stroke-width="1.2"/>
<line x1="318.3" y1="304.5" x2="324.3" y2="304.5" stroke="#000" stroke-width="1.2"/>
<line x1="318.3" y1="311.3" x2="324.3" y2="311.3" stroke="#000" stroke-width="1.2"/>
<line x1="345" y1="348" x2="345" y2="355.5" stroke="#000" stroke-width="1.2"/>
<line x1="342" y1="348" x2="348" y2="348" stroke="#000" stroke-width="1.2"/>
<line x1="342" y1="355.5" x2="348" y2="355.5" stroke="#000" stroke-width="1.2"/>
<line x1="391.9" y1="307.5" x2="391.9" y2="315" stroke="#000" stroke-width="1.2"/>
<line x1="388.9" y1="307.5" x2="394.9" y2="307.5" stroke="#000" stroke-width="1.2"/>
<line x1="388.9" y1="315" x2="394.9" y2="315" stroke="#000" stroke-width="1.2"/>
<line x1="415.5" y1="358" x2="415.5" y2="361.5" stroke="#000" stroke-width="1.2"/>
<line x1="412.5" y1="358" x2="418.5" y2="358" stroke="#000" stroke-width="1.2"/>
<line x1="412.5" y1="361.5" x2="418.5" y2="361.5" stroke="#000" stroke-width="1.2"/>
<circle cx="293.3" cy="367.4" r="2.55" stroke="#1c1cc8" stroke-width="1.45" fill="none"/>
<circle cx="297.8" cy="372.3" r="2.55" stroke="#1c1cc8" stroke-width="1.45" fill="none"/>
<circle cx="302.2" cy="368.6" r="2.55" stroke="#1c1cc8" stroke-width="1.45" fill="none"/>
<circle cx="317.7" cy="302.1" r="2.55" stroke="#1c1cc8" stroke-width="1.45" fill="none"/>
<circle cx="325.4" cy="307.1" r="2.55" stroke="#1c1cc8" stroke-width="1.45" fill="none"/>
<circle cx="321.4" cy="315" r="2.55" stroke="#1c1cc8" stroke-width="1.45" fill="none"/>
<circle cx="345" cy="345.7" r="2.55" stroke="#1c1cc8" stroke-width="1.45" fill="none"/>
<circle cx="348.3" cy="352.2" r="2.55" stroke="#1c1cc8" stroke-width="1.45" fill="none"/>
<circle cx="341.1" cy="359.2" r="2.55" stroke="#1c1cc8" stroke-width="1.45" fill="none"/>
<circle cx="364.2" cy="367.7" r="2.55" stroke="#1c1cc8" stroke-width="1.45" fill="none"/>
<circle cx="368.3" cy="371.8" r="2.55" stroke="#1c1cc8" stroke-width="1.45" fill="none"/>
<circle cx="372.7" cy="370.2" r="2.55" stroke="#1c1cc8" stroke-width="1.45" fill="none"/>
<circle cx="391.9" cy="306.9" r="2.55" stroke="#1c1cc8" stroke-width="1.45" fill="none"/>
<circle cx="395.6" cy="312.8" r="2.55" stroke="#1c1cc8" stroke-width="1.45" fill="none"/>
<circle cx="387.7" cy="316.5" r="2.55" stroke="#1c1cc8" stroke-width="1.45" fill="none"/>
<circle cx="411" cy="357.1" r="2.55" stroke="#1c1cc8" stroke-width="1.45" fill="none"/>
<circle cx="415.2" cy="362.8" r="2.55" stroke="#1c1cc8" stroke-width="1.45" fill="none"/>
<circle cx="419.6" cy="362" r="2.55" stroke="#1c1cc8" stroke-width="1.45" fill="none"/>
<text x="321.3" y="272.6" font-size="9.95" text-anchor="middle" font-weight="bold">AGS</text>
<text x="390.5" y="272.8" font-size="9.95" text-anchor="middle" font-weight="bold">MKN1</text>
<line x1="298" y1="278" x2="345.1" y2="278" stroke="#000" stroke-width="1.3"/>
<line x1="366.4" y1="277.2" x2="413.6" y2="277.2" stroke="#000" stroke-width="1.3"/>
<path d="M296.9 338.7 L296.9 286.1 L321.4 286.1 L321.4 294.7" stroke="#000" stroke-width="1.3" fill="none" stroke-linejoin="miter"/>
<path d="M321.4 291.3 L321.4 291.3 L345.2 291.3 L345.2 328.3" stroke="#000" stroke-width="1.3" fill="none" stroke-linejoin="miter"/>
<path d="M368.1 336.5 L368.1 290.6 L391.9 290.6 L391.9 298" stroke="#000" stroke-width="1.3" fill="none" stroke-linejoin="miter"/>
<path d="M391.9 294.3 L391.9 294.3 L416 294.3 L416 337.2" stroke="#000" stroke-width="1.3" fill="none" stroke-linejoin="miter"/>
<path d="M309.1 280.7 L309.66 282.04 L311.1 282.15 L310 283.09 L310.33 284.5 L309.1 283.75 L307.87 284.5 L308.2 283.09 L307.1 282.15 L308.54 282.04 Z" stroke="#000" stroke-width="0.5" fill="#000" stroke-linejoin="miter"/>
<path d="M333.5 286.5 L334.06 287.84 L335.5 287.95 L334.4 288.89 L334.73 290.3 L333.5 289.55 L332.27 290.3 L332.6 288.89 L331.5 287.95 L332.94 287.84 Z" stroke="#000" stroke-width="0.5" fill="#000" stroke-linejoin="miter"/>
<path d="M380.3 284.7 L380.86 286.04 L382.3 286.15 L381.2 287.09 L381.53 288.5 L380.3 287.75 L379.07 288.5 L379.4 287.09 L378.3 286.15 L379.74 286.04 Z" stroke="#000" stroke-width="0.5" fill="#000" stroke-linejoin="miter"/>
<path d="M404.7 288.7 L405.26 290.04 L406.7 290.15 L405.6 291.09 L405.93 292.5 L404.7 291.75 L403.47 292.5 L403.8 291.09 L402.7 290.15 L404.14 290.04 Z" stroke="#000" stroke-width="0.5" fill="#000" stroke-linejoin="miter"/>
<text x="246.6" y="356.6" font-size="10" font-weight="bold" text-anchor="middle" transform="rotate(-90 246.6 356.6)">Relative <tspan font-style="italic">Nqo1</tspan> mRNA expression</text>
<text x="258.9" y="357.1" font-size="10.4" text-anchor="middle" font-weight="bold" transform="rotate(-90 258.9 357.1)">(Fold change)</text>
<text x="290.2" y="434.7" font-size="8.8" text-anchor="end" font-weight="bold" letter-spacing="0.3">Mock</text>
<text x="290.2" y="447.4" font-size="8.8" text-anchor="end" font-weight="bold">NKX6.3</text>
<text x="290.2" y="461.6" font-size="8.8" text-anchor="end" font-weight="bold">siScramble</text>
<text x="290.2" y="475.9" font-size="8.8" text-anchor="end" font-weight="bold">siHace1</text>
<line x1="295.6" y1="432.4" x2="301.2" y2="432.4" stroke="#000" stroke-width="1.65"/>
<line x1="298.4" y1="429.6" x2="298.4" y2="435.2" stroke="#000" stroke-width="1.65"/>
<line x1="320.39" y1="432.9" x2="323.41" y2="432.9" stroke="#000" stroke-width="1.65"/>
<line x1="344.09" y1="432.9" x2="347.11" y2="432.9" stroke="#000" stroke-width="1.65"/>
<line x1="366.2" y1="432.4" x2="371.8" y2="432.4" stroke="#000" stroke-width="1.65"/>
<line x1="369" y1="429.6" x2="369" y2="435.2" stroke="#000" stroke-width="1.65"/>
<line x1="390.99" y1="432.9" x2="394.01" y2="432.9" stroke="#000" stroke-width="1.65"/>
<line x1="414.59" y1="432.9" x2="417.61" y2="432.9" stroke="#000" stroke-width="1.65"/>
<line x1="296.89" y1="445.1" x2="299.91" y2="445.1" stroke="#000" stroke-width="1.65"/>
<line x1="319.1" y1="444.6" x2="324.7" y2="444.6" stroke="#000" stroke-width="1.65"/>
<line x1="321.9" y1="441.8" x2="321.9" y2="447.4" stroke="#000" stroke-width="1.65"/>
<line x1="342.8" y1="444.6" x2="348.4" y2="444.6" stroke="#000" stroke-width="1.65"/>
<line x1="345.6" y1="441.8" x2="345.6" y2="447.4" stroke="#000" stroke-width="1.65"/>
<line x1="367.49" y1="445.1" x2="370.51" y2="445.1" stroke="#000" stroke-width="1.65"/>
<line x1="389.7" y1="444.6" x2="395.3" y2="444.6" stroke="#000" stroke-width="1.65"/>
<line x1="392.5" y1="441.8" x2="392.5" y2="447.4" stroke="#000" stroke-width="1.65"/>
<line x1="413.3" y1="444.6" x2="418.9" y2="444.6" stroke="#000" stroke-width="1.65"/>
<line x1="416.1" y1="441.8" x2="416.1" y2="447.4" stroke="#000" stroke-width="1.65"/>
<line x1="295.6" y1="459.5" x2="301.2" y2="459.5" stroke="#000" stroke-width="1.65"/>
<line x1="298.4" y1="456.7" x2="298.4" y2="462.3" stroke="#000" stroke-width="1.65"/>
<line x1="319.1" y1="459.5" x2="324.7" y2="459.5" stroke="#000" stroke-width="1.65"/>
<line x1="321.9" y1="456.7" x2="321.9" y2="462.3" stroke="#000" stroke-width="1.65"/>
<line x1="344.09" y1="460" x2="347.11" y2="460" stroke="#000" stroke-width="1.65"/>
<line x1="366.2" y1="459.5" x2="371.8" y2="459.5" stroke="#000" stroke-width="1.65"/>
<line x1="369" y1="456.7" x2="369" y2="462.3" stroke="#000" stroke-width="1.65"/>
<line x1="389.7" y1="459.5" x2="395.3" y2="459.5" stroke="#000" stroke-width="1.65"/>
<line x1="392.5" y1="456.7" x2="392.5" y2="462.3" stroke="#000" stroke-width="1.65"/>
<line x1="414.59" y1="460" x2="417.61" y2="460" stroke="#000" stroke-width="1.65"/>
<line x1="296.89" y1="474.5" x2="299.91" y2="474.5" stroke="#000" stroke-width="1.65"/>
<line x1="320.39" y1="474.5" x2="323.41" y2="474.5" stroke="#000" stroke-width="1.65"/>
<line x1="342.8" y1="474" x2="348.4" y2="474" stroke="#000" stroke-width="1.65"/>
<line x1="345.6" y1="471.2" x2="345.6" y2="476.8" stroke="#000" stroke-width="1.65"/>
<line x1="367.49" y1="474.5" x2="370.51" y2="474.5" stroke="#000" stroke-width="1.65"/>
<line x1="390.99" y1="474.5" x2="394.01" y2="474.5" stroke="#000" stroke-width="1.65"/>
<line x1="413.3" y1="474" x2="418.9" y2="474" stroke="#000" stroke-width="1.65"/>
<line x1="416.1" y1="471.2" x2="416.1" y2="476.8" stroke="#000" stroke-width="1.65"/>
<line x1="501.8" y1="297.75" x2="501.8" y2="420.75" stroke="#000" stroke-width="1.5"/>
<line x1="498.8" y1="420" x2="501.8" y2="420" stroke="#000" stroke-width="1.5"/>
<text x="497.7" y="423.25" font-size="9.3" text-anchor="end" font-weight="bold">0.0</text>
<line x1="498.8" y1="395.7" x2="501.8" y2="395.7" stroke="#000" stroke-width="1.5"/>
<text x="497.7" y="398.95" font-size="9.3" text-anchor="end" font-weight="bold">0.5</text>
<line x1="498.8" y1="371.4" x2="501.8" y2="371.4" stroke="#000" stroke-width="1.5"/>
<text x="497.7" y="374.65" font-size="9.3" text-anchor="end" font-weight="bold">1.0</text>
<line x1="498.8" y1="347.1" x2="501.8" y2="347.1" stroke="#000" stroke-width="1.5"/>
<text x="497.7" y="350.36" font-size="9.3" text-anchor="end" font-weight="bold">1.5</text>
<line x1="498.8" y1="322.8" x2="501.8" y2="322.8" stroke="#000" stroke-width="1.5"/>
<text x="497.7" y="326.06" font-size="9.3" text-anchor="end" font-weight="bold">2.0</text>
<line x1="498.8" y1="298.5" x2="501.8" y2="298.5" stroke="#000" stroke-width="1.5"/>
<text x="497.7" y="301.75" font-size="9.3" text-anchor="end" font-weight="bold">2.5</text>
<line x1="498.8" y1="420" x2="649" y2="420" stroke="#000" stroke-width="1.5"/>
<line x1="516.8" y1="420" x2="516.8" y2="423.2" stroke="#000" stroke-width="1.3"/>
<line x1="540.4" y1="420" x2="540.4" y2="423.2" stroke="#000" stroke-width="1.3"/>
<line x1="563.5" y1="420" x2="563.5" y2="423.2" stroke="#000" stroke-width="1.3"/>
<line x1="586.6" y1="420" x2="586.6" y2="423.2" stroke="#000" stroke-width="1.3"/>
<line x1="609.8" y1="420" x2="609.8" y2="423.2" stroke="#000" stroke-width="1.3"/>
<line x1="632.7" y1="420" x2="632.7" y2="423.2" stroke="#000" stroke-width="1.3"/>
<rect x="509.65" y="371.38" width="14.3" height="48.62" fill="#fff" stroke="#000" stroke-width="1.9"/>
<rect x="533.25" y="322.29" width="14.3" height="97.71" fill="#fff" stroke="#000" stroke-width="1.9"/>
<rect x="556.35" y="360.69" width="14.3" height="59.31" fill="#fff" stroke="#000" stroke-width="1.9"/>
<rect x="579.45" y="372.35" width="14.3" height="47.65" fill="#fff" stroke="#000" stroke-width="1.9"/>
<rect x="602.65" y="315.49" width="14.3" height="104.51" fill="#fff" stroke="#000" stroke-width="1.9"/>
<rect x="625.55" y="360.69" width="14.3" height="59.31" fill="#fff" stroke="#000" stroke-width="1.9"/>
<line x1="516.8" y1="367.2" x2="516.8" y2="374.4" stroke="#000" stroke-width="1.2"/>
<line x1="513.8" y1="367.2" x2="519.8" y2="367.2" stroke="#000" stroke-width="1.2"/>
<line x1="513.8" y1="374.4" x2="519.8" y2="374.4" stroke="#000" stroke-width="1.2"/>
<line x1="540.4" y1="317" x2="540.4" y2="326" stroke="#000" stroke-width="1.2"/>
<line x1="537.4" y1="317" x2="543.4" y2="317" stroke="#000" stroke-width="1.2"/>
<line x1="537.4" y1="326" x2="543.4" y2="326" stroke="#000" stroke-width="1.2"/>
<line x1="609.8" y1="309.6" x2="609.8" y2="321.5" stroke="#000" stroke-width="1.2"/>
<line x1="606.8" y1="309.6" x2="612.8" y2="309.6" stroke="#000" stroke-width="1.2"/>
<line x1="606.8" y1="321.5" x2="612.8" y2="321.5" stroke="#000" stroke-width="1.2"/>
<line x1="632.7" y1="357" x2="632.7" y2="363.6" stroke="#000" stroke-width="1.2"/>
<line x1="629.7" y1="357" x2="635.7" y2="357" stroke="#000" stroke-width="1.2"/>
<line x1="629.7" y1="363.6" x2="635.7" y2="363.6" stroke="#000" stroke-width="1.2"/>
<circle cx="516.8" cy="365" r="2.55" stroke="#1c1cc8" stroke-width="1.45" fill="none"/>
<circle cx="512.8" cy="375.2" r="2.55" stroke="#1c1cc8" stroke-width="1.45" fill="none"/>
<circle cx="521" cy="375.2" r="2.55" stroke="#1c1cc8" stroke-width="1.45" fill="none"/>
<circle cx="536.3" cy="328.8" r="2.55" stroke="#1c1cc8" stroke-width="1.45" fill="none"/>
<circle cx="540" cy="313.8" r="2.55" stroke="#1c1cc8" stroke-width="1.45" fill="none"/>
<circle cx="543.8" cy="323" r="2.55" stroke="#1c1cc8" stroke-width="1.45" fill="none"/>
<circle cx="560" cy="357.6" r="2.55" stroke="#1c1cc8" stroke-width="1.45" fill="none"/>
<circle cx="564" cy="359.8" r="2.55" stroke="#1c1cc8" stroke-width="1.45" fill="none"/>
<circle cx="567.8" cy="359.2" r="2.55" stroke="#1c1cc8" stroke-width="1.45" fill="none"/>
<circle cx="583" cy="369.2" r="2.55" stroke="#1c1cc8" stroke-width="1.45" fill="none"/>
<circle cx="586.6" cy="372.6" r="2.55" stroke="#1c1cc8" stroke-width="1.45" fill="none"/>
<circle cx="590.8" cy="371" r="2.55" stroke="#1c1cc8" stroke-width="1.45" fill="none"/>
<circle cx="609.6" cy="304.7" r="2.55" stroke="#1c1cc8" stroke-width="1.45" fill="none"/>
<circle cx="609.6" cy="316.9" r="2.55" stroke="#1c1cc8" stroke-width="1.45" fill="none"/>
<circle cx="609.6" cy="325.1" r="2.55" stroke="#1c1cc8" stroke-width="1.45" fill="none"/>
<circle cx="629" cy="365.8" r="2.55" stroke="#1c1cc8" stroke-width="1.45" fill="none"/>
<circle cx="632.8" cy="358.4" r="2.55" stroke="#1c1cc8" stroke-width="1.45" fill="none"/>
<circle cx="636.2" cy="360.6" r="2.55" stroke="#1c1cc8" stroke-width="1.45" fill="none"/>
<text x="540.1" y="282" font-size="9.8" text-anchor="middle" font-weight="bold">AGS</text>
<text x="608" y="272.2" font-size="9.6" text-anchor="middle" font-weight="bold">MKN1</text>
<line x1="516.8" y1="287.5" x2="563.5" y2="287.5" stroke="#000" stroke-width="1.3"/>
<line x1="584.3" y1="276.7" x2="630.8" y2="276.7" stroke="#000" stroke-width="1.3"/>
<path d="M516.2 347.1 L516.2 295.4 L540.1 295.4 L540.1 303.9" stroke="#000" stroke-width="1.3" fill="none" stroke-linejoin="miter"/>
<path d="M540.1 301.9 L540.1 301.9 L563.3 301.9 L563.3 336.5" stroke="#000" stroke-width="1.3" fill="none" stroke-linejoin="miter"/>
<path d="M586.3 334.9 L586.3 289.7 L609.6 289.7 L609.6 296.6" stroke="#000" stroke-width="1.3" fill="none" stroke-linejoin="miter"/>
<path d="M609.6 293.6 L609.6 293.6 L632.7 293.6 L632.7 335.7" stroke="#000" stroke-width="1.3" fill="none" stroke-linejoin="miter"/>
<path d="M528.7 290.8 L529.26 292.14 L530.7 292.25 L529.6 293.19 L529.93 294.6 L528.7 293.85 L527.47 294.6 L527.8 293.19 L526.7 292.25 L528.14 292.14 Z" stroke="#000" stroke-width="0.5" fill="#000" stroke-linejoin="miter"/>
<path d="M552.3 296.3 L552.86 297.64 L554.3 297.75 L553.2 298.69 L553.53 300.1 L552.3 299.35 L551.07 300.1 L551.4 298.69 L550.3 297.75 L551.74 297.64 Z" stroke="#000" stroke-width="0.5" fill="#000" stroke-linejoin="miter"/>
<path d="M597.9 283.8 L598.46 285.14 L599.9 285.25 L598.8 286.19 L599.13 287.6 L597.9 286.85 L596.67 287.6 L597 286.19 L595.9 285.25 L597.34 285.14 Z" stroke="#000" stroke-width="0.5" fill="#000" stroke-linejoin="miter"/>
<path d="M622.3 287.8 L622.86 289.14 L624.3 289.25 L623.2 290.19 L623.53 291.6 L622.3 290.85 L621.07 291.6 L621.4 290.19 L620.3 289.25 L621.74 289.14 Z" stroke="#000" stroke-width="0.5" fill="#000" stroke-linejoin="miter"/>
<text x="467.3" y="358.9" font-size="9.8" font-weight="bold" text-anchor="middle" transform="rotate(-90 467.3 358.9)">Relative <tspan font-style="italic">HO-1</tspan> mRNA expression</text>
<text x="478.6" y="359" font-size="10.1" text-anchor="middle" font-weight="bold" transform="rotate(-90 478.6 359)">(Fold change)</text>
<text x="509.3" y="435.4" font-size="8.6" text-anchor="end" font-weight="bold" letter-spacing="0.3">Mock</text>
<text x="509.3" y="448.4" font-size="8.6" text-anchor="end" font-weight="bold">NKX6.3</text>
<text x="509.3" y="461.8" font-size="8.6" text-anchor="end" font-weight="bold">siScramble</text>
<text x="509.3" y="476" font-size="8.6" text-anchor="end" font-weight="bold">siHace1</text>
<line x1="514.5" y1="433.2" x2="520.3" y2="433.2" stroke="#000" stroke-width="1.65"/>
<line x1="517.4" y1="430.3" x2="517.4" y2="436.1" stroke="#000" stroke-width="1.65"/>
<line x1="539.43" y1="433.7" x2="542.57" y2="433.7" stroke="#000" stroke-width="1.65"/>
<line x1="562.53" y1="433.7" x2="565.67" y2="433.7" stroke="#000" stroke-width="1.65"/>
<line x1="584.3" y1="433.2" x2="590.1" y2="433.2" stroke="#000" stroke-width="1.65"/>
<line x1="587.2" y1="430.3" x2="587.2" y2="436.1" stroke="#000" stroke-width="1.65"/>
<line x1="608.83" y1="433.7" x2="611.97" y2="433.7" stroke="#000" stroke-width="1.65"/>
<line x1="631.73" y1="433.7" x2="634.87" y2="433.7" stroke="#000" stroke-width="1.65"/>
<line x1="515.83" y1="446.3" x2="518.97" y2="446.3" stroke="#000" stroke-width="1.65"/>
<line x1="538.1" y1="445.8" x2="543.9" y2="445.8" stroke="#000" stroke-width="1.65"/>
<line x1="541" y1="442.9" x2="541" y2="448.7" stroke="#000" stroke-width="1.65"/>
<line x1="561.2" y1="445.8" x2="567" y2="445.8" stroke="#000" stroke-width="1.65"/>
<line x1="564.1" y1="442.9" x2="564.1" y2="448.7" stroke="#000" stroke-width="1.65"/>
<line x1="585.63" y1="446.3" x2="588.77" y2="446.3" stroke="#000" stroke-width="1.65"/>
<line x1="607.5" y1="445.8" x2="613.3" y2="445.8" stroke="#000" stroke-width="1.65"/>
<line x1="610.4" y1="442.9" x2="610.4" y2="448.7" stroke="#000" stroke-width="1.65"/>
<line x1="630.4" y1="445.8" x2="636.2" y2="445.8" stroke="#000" stroke-width="1.65"/>
<line x1="633.3" y1="442.9" x2="633.3" y2="448.7" stroke="#000" stroke-width="1.65"/>
<line x1="514.5" y1="460" x2="520.3" y2="460" stroke="#000" stroke-width="1.65"/>
<line x1="517.4" y1="457.1" x2="517.4" y2="462.9" stroke="#000" stroke-width="1.65"/>
<line x1="538.1" y1="460" x2="543.9" y2="460" stroke="#000" stroke-width="1.65"/>
<line x1="541" y1="457.1" x2="541" y2="462.9" stroke="#000" stroke-width="1.65"/>
<line x1="562.53" y1="460.5" x2="565.67" y2="460.5" stroke="#000" stroke-width="1.65"/>
<line x1="584.3" y1="460" x2="590.1" y2="460" stroke="#000" stroke-width="1.65"/>
<line x1="587.2" y1="457.1" x2="587.2" y2="462.9" stroke="#000" stroke-width="1.65"/>
<line x1="607.5" y1="460" x2="613.3" y2="460" stroke="#000" stroke-width="1.65"/>
<line x1="610.4" y1="457.1" x2="610.4" y2="462.9" stroke="#000" stroke-width="1.65"/>
<line x1="631.73" y1="460.5" x2="634.87" y2="460.5" stroke="#000" stroke-width="1.65"/>
<line x1="515.83" y1="474.2" x2="518.97" y2="474.2" stroke="#000" stroke-width="1.65"/>
<line x1="539.43" y1="474.2" x2="542.57" y2="474.2" stroke="#000" stroke-width="1.65"/>
<line x1="561.2" y1="473.7" x2="567" y2="473.7" stroke="#000" stroke-width="1.65"/>
<line x1="564.1" y1="470.8" x2="564.1" y2="476.6" stroke="#000" stroke-width="1.65"/>
<line x1="585.63" y1="474.2" x2="588.77" y2="474.2" stroke="#000" stroke-width="1.65"/>
<line x1="608.83" y1="474.2" x2="611.97" y2="474.2" stroke="#000" stroke-width="1.65"/>
<line x1="630.4" y1="473.7" x2="636.2" y2="473.7" stroke="#000" stroke-width="1.65"/>
<line x1="633.3" y1="470.8" x2="633.3" y2="476.6" stroke="#000" stroke-width="1.65"/>
<text x="136.3" y="520.9" font-size="24.5" font-weight="bold">D</text>
<line x1="182.8" y1="556.2" x2="182.8" y2="679.05" stroke="#000" stroke-width="1.5"/>
<line x1="179.6" y1="678.3" x2="182.8" y2="678.3" stroke="#000" stroke-width="1.5"/>
<text x="178.4" y="682.02" font-size="9.5" text-anchor="end" font-weight="bold">0.0</text>
<line x1="179.6" y1="637.85" x2="182.8" y2="637.85" stroke="#000" stroke-width="1.5"/>
<text x="178.4" y="641.57" font-size="9.5" text-anchor="end" font-weight="bold">0.5</text>
<line x1="179.6" y1="597.4" x2="182.8" y2="597.4" stroke="#000" stroke-width="1.5"/>
<text x="178.4" y="601.12" font-size="9.5" text-anchor="end" font-weight="bold">1.0</text>
<line x1="179.6" y1="556.95" x2="182.8" y2="556.95" stroke="#000" stroke-width="1.5"/>
<text x="178.4" y="560.67" font-size="9.5" text-anchor="end" font-weight="bold">1.5</text>
<line x1="180.2" y1="678.3" x2="337.8" y2="678.3" stroke="#000" stroke-width="1.4"/>
<line x1="198.3" y1="678.3" x2="198.3" y2="681.1" stroke="#000" stroke-width="1.3"/>
<text x="200.8" y="690.7" font-size="9.2" text-anchor="end" font-weight="bold" transform="rotate(-45 200.8 690.7)">0</text>
<line x1="229.2" y1="678.3" x2="229.2" y2="681.1" stroke="#000" stroke-width="1.3"/>
<text x="231.7" y="690.7" font-size="9.2" text-anchor="end" font-weight="bold" transform="rotate(-45 231.7 690.7)">1</text>
<line x1="260.1" y1="678.3" x2="260.1" y2="681.1" stroke="#000" stroke-width="1.3"/>
<text x="262.6" y="690.7" font-size="9.2" text-anchor="end" font-weight="bold" transform="rotate(-45 262.6 690.7)">2</text>
<line x1="291" y1="678.3" x2="291" y2="681.1" stroke="#000" stroke-width="1.3"/>
<text x="293.5" y="690.7" font-size="9.2" text-anchor="end" font-weight="bold" transform="rotate(-45 293.5 690.7)">3</text>
<line x1="321.9" y1="678.3" x2="321.9" y2="681.1" stroke="#000" stroke-width="1.3"/>
<text x="324.4" y="690.7" font-size="9.2" text-anchor="end" font-weight="bold" transform="rotate(-45 324.4 690.7)">4</text>
<text x="260.2" y="542.8" font-size="11.8" text-anchor="middle" font-weight="bold">AGS</text>
<text x="260.1" y="707.8" font-size="10" text-anchor="middle" font-weight="bold">Day of Culture</text>
<path d="M198.3 668.59 L229.2 661.31 L260.1 650.79 L291 643.51 L321.9 630.57" stroke="#1414d4" stroke-width="1.25" fill="none" stroke-linejoin="round"/>
<path d="M198.3 669.4 L229.2 658.88 L260.1 645.94 L291 632.19 L321.9 616.01" stroke="#f29a38" stroke-width="1.25" fill="none" stroke-linejoin="round"/>
<path d="M198.3 668.59 L229.2 657.27 L260.1 641.09 L291 618.43 L321.9 590.12" stroke="#e3236f" stroke-width="1.25" fill="none" stroke-linejoin="round"/>
<circle cx="198.3" cy="668.59" r="2.45" stroke="#1414d4" stroke-width="0.5" fill="#1414d4"/>
<circle cx="229.2" cy="661.31" r="2.45" stroke="#1414d4" stroke-width="0.5" fill="#1414d4"/>
<circle cx="260.1" cy="650.79" r="2.45" stroke="#1414d4" stroke-width="0.5" fill="#1414d4"/>
<circle cx="291" cy="643.51" r="2.45" stroke="#1414d4" stroke-width="0.5" fill="#1414d4"/>
<circle cx="321.9" cy="630.57" r="2.45" stroke="#1414d4" stroke-width="0.5" fill="#1414d4"/>
<path d="M198.3 666 L201.6 672 L195 672 Z" stroke="#f29a38" stroke-width="1.7" fill="#f8c990" stroke-linejoin="miter"/>
<path d="M229.2 655.48 L232.5 661.48 L225.9 661.48 Z" stroke="#f29a38" stroke-width="1.7" fill="#f8c990" stroke-linejoin="miter"/>
<path d="M260.1 642.54 L263.4 648.54 L256.8 648.54 Z" stroke="#f29a38" stroke-width="1.7" fill="#f8c990" stroke-linejoin="miter"/>
<path d="M291 628.79 L294.3 634.79 L287.7 634.79 Z" stroke="#f29a38" stroke-width="1.7" fill="#f8c990" stroke-linejoin="miter"/>
<path d="M321.9 612.61 L325.2 618.61 L318.6 618.61 Z" stroke="#f29a38" stroke-width="1.7" fill="#f8c990" stroke-linejoin="miter"/>
<circle cx="198.3" cy="668.59" r="2.5" stroke="#e3236f" stroke-width="1.9" fill="#f3a9c6"/>
<circle cx="229.2" cy="657.27" r="2.5" stroke="#e3236f" stroke-width="1.9" fill="#f3a9c6"/>
<circle cx="260.1" cy="641.09" r="2.5" stroke="#e3236f" stroke-width="1.9" fill="#f3a9c6"/>
<circle cx="291" cy="618.43" r="2.5" stroke="#e3236f" stroke-width="1.9" fill="#f3a9c6"/>
<circle cx="321.9" cy="590.12" r="2.5" stroke="#e3236f" stroke-width="1.9" fill="#f3a9c6"/>
<line x1="321.9" y1="586.52" x2="321.9" y2="593.72" stroke="#e3236f" stroke-width="1.4"/>
<line x1="319.5" y1="586.52" x2="324.3" y2="586.52" stroke="#e3236f" stroke-width="1.4"/>
<line x1="319.5" y1="593.72" x2="324.3" y2="593.72" stroke="#e3236f" stroke-width="1.4"/>
<line x1="321.9" y1="611.81" x2="321.9" y2="616.01" stroke="#f29a38" stroke-width="1.4"/>
<line x1="319.7" y1="611.81" x2="324.1" y2="611.81" stroke="#f29a38" stroke-width="1.4"/>
<path d="M328 590.12 L333 590.12 L333 630.57 L328 630.57" stroke="#000" stroke-width="1.2" fill="none" stroke-linejoin="miter"/>
<path d="M334.3 589.42 L339 589.42 L339 614.51" stroke="#000" stroke-width="1.2" fill="none" stroke-linejoin="miter"/>
<path d="M333 614.51 L343 614.51 L343 631.37 L338.3 631.37" stroke="#000" stroke-width="1.2" fill="none" stroke-linejoin="miter"/>
<circle cx="328.4" cy="607.09" r="1.1" stroke="#000" stroke-width="0.8" fill="#000"/>
<circle cx="328.4" cy="611.59" r="1.1" stroke="#000" stroke-width="0.8" fill="#000"/>
<circle cx="343.6" cy="600.81" r="1.1" stroke="#000" stroke-width="0.8" fill="#000"/>
<circle cx="343.6" cy="605.31" r="1.1" stroke="#000" stroke-width="0.8" fill="#000"/>
<circle cx="347.4" cy="621.04" r="1.1" stroke="#000" stroke-width="0.8" fill="#000"/>
<circle cx="347.4" cy="625.54" r="1.1" stroke="#000" stroke-width="0.8" fill="#000"/>
<line x1="383.6" y1="556.2" x2="383.6" y2="679.05" stroke="#000" stroke-width="1.5"/>
<line x1="380.4" y1="678.3" x2="383.6" y2="678.3" stroke="#000" stroke-width="1.5"/>
<text x="379.2" y="682.02" font-size="9.5" text-anchor="end" font-weight="bold">0.0</text>
<line x1="380.4" y1="637.85" x2="383.6" y2="637.85" stroke="#000" stroke-width="1.5"/>
<text x="379.2" y="641.57" font-size="9.5" text-anchor="end" font-weight="bold">0.5</text>
<line x1="380.4" y1="597.4" x2="383.6" y2="597.4" stroke="#000" stroke-width="1.5"/>
<text x="379.2" y="601.12" font-size="9.5" text-anchor="end" font-weight="bold">1.0</text>
<line x1="380.4" y1="556.95" x2="383.6" y2="556.95" stroke="#000" stroke-width="1.5"/>
<text x="379.2" y="560.67" font-size="9.5" text-anchor="end" font-weight="bold">1.5</text>
<line x1="381" y1="678.3" x2="539.5" y2="678.3" stroke="#000" stroke-width="1.4"/>
<line x1="399.2" y1="678.3" x2="399.2" y2="681.1" stroke="#000" stroke-width="1.3"/>
<text x="401.7" y="690.7" font-size="9.2" text-anchor="end" font-weight="bold" transform="rotate(-45 401.7 690.7)">0</text>
<line x1="430.3" y1="678.3" x2="430.3" y2="681.1" stroke="#000" stroke-width="1.3"/>
<text x="432.8" y="690.7" font-size="9.2" text-anchor="end" font-weight="bold" transform="rotate(-45 432.8 690.7)">1</text>
<line x1="461.4" y1="678.3" x2="461.4" y2="681.1" stroke="#000" stroke-width="1.3"/>
<text x="463.9" y="690.7" font-size="9.2" text-anchor="end" font-weight="bold" transform="rotate(-45 463.9 690.7)">2</text>
<line x1="492.5" y1="678.3" x2="492.5" y2="681.1" stroke="#000" stroke-width="1.3"/>
<text x="495" y="690.7" font-size="9.2" text-anchor="end" font-weight="bold" transform="rotate(-45 495 690.7)">3</text>
<line x1="523.6" y1="678.3" x2="523.6" y2="681.1" stroke="#000" stroke-width="1.3"/>
<text x="526.1" y="690.7" font-size="9.2" text-anchor="end" font-weight="bold" transform="rotate(-45 526.1 690.7)">4</text>
<text x="460.7" y="542.8" font-size="11.8" text-anchor="middle" font-weight="bold">MKN1</text>
<text x="461.4" y="707.8" font-size="10" text-anchor="middle" font-weight="bold">Day of Culture</text>
<path d="M399.2 670.21 L430.3 667.78 L461.4 657.27 L492.5 643.51 L523.6 630.57" stroke="#1414d4" stroke-width="1.25" fill="none" stroke-linejoin="round"/>
<path d="M399.2 671.02 L430.3 667.78 L461.4 657.27 L492.5 636.23 L523.6 616.82" stroke="#f29a38" stroke-width="1.25" fill="none" stroke-linejoin="round"/>
<path d="M399.2 670.21 L430.3 666.16 L461.4 654.03 L492.5 628.95 L523.6 590.36" stroke="#e3236f" stroke-width="1.25" fill="none" stroke-linejoin="round"/>
<circle cx="399.2" cy="670.21" r="2.45" stroke="#1414d4" stroke-width="0.5" fill="#1414d4"/>
<circle cx="430.3" cy="667.78" r="2.45" stroke="#1414d4" stroke-width="0.5" fill="#1414d4"/>
<circle cx="461.4" cy="657.27" r="2.45" stroke="#1414d4" stroke-width="0.5" fill="#1414d4"/>
<circle cx="492.5" cy="643.51" r="2.45" stroke="#1414d4" stroke-width="0.5" fill="#1414d4"/>
<circle cx="523.6" cy="630.57" r="2.45" stroke="#1414d4" stroke-width="0.5" fill="#1414d4"/>
<path d="M399.2 667.62 L402.5 673.62 L395.9 673.62 Z" stroke="#f29a38" stroke-width="1.7" fill="#f8c990" stroke-linejoin="miter"/>
<path d="M430.3 664.38 L433.6 670.38 L427 670.38 Z" stroke="#f29a38" stroke-width="1.7" fill="#f8c990" stroke-linejoin="miter"/>
<path d="M461.4 653.87 L464.7 659.87 L458.1 659.87 Z" stroke="#f29a38" stroke-width="1.7" fill="#f8c990" stroke-linejoin="miter"/>
<path d="M492.5 632.83 L495.8 638.83 L489.2 638.83 Z" stroke="#f29a38" stroke-width="1.7" fill="#f8c990" stroke-linejoin="miter"/>
<path d="M523.6 613.42 L526.9 619.42 L520.3 619.42 Z" stroke="#f29a38" stroke-width="1.7" fill="#f8c990" stroke-linejoin="miter"/>
<circle cx="399.2" cy="670.21" r="2.5" stroke="#e3236f" stroke-width="1.9" fill="#f3a9c6"/>
<circle cx="430.3" cy="666.16" r="2.5" stroke="#e3236f" stroke-width="1.9" fill="#f3a9c6"/>
<circle cx="461.4" cy="654.03" r="2.5" stroke="#e3236f" stroke-width="1.9" fill="#f3a9c6"/>
<circle cx="492.5" cy="628.95" r="2.5" stroke="#e3236f" stroke-width="1.9" fill="#f3a9c6"/>
<circle cx="523.6" cy="590.36" r="2.5" stroke="#e3236f" stroke-width="1.9" fill="#f3a9c6"/>
<line x1="523.6" y1="586.76" x2="523.6" y2="593.96" stroke="#e3236f" stroke-width="1.4"/>
<line x1="521.2" y1="586.76" x2="526" y2="586.76" stroke="#e3236f" stroke-width="1.4"/>
<line x1="521.2" y1="593.96" x2="526" y2="593.96" stroke="#e3236f" stroke-width="1.4"/>
<line x1="523.6" y1="612.62" x2="523.6" y2="616.82" stroke="#f29a38" stroke-width="1.4"/>
<line x1="521.4" y1="612.62" x2="525.8" y2="612.62" stroke="#f29a38" stroke-width="1.4"/>
<path d="M529.5 590.36 L534.5 590.36 L534.5 630.57 L529.5 630.57" stroke="#000" stroke-width="1.2" fill="none" stroke-linejoin="miter"/>
<path d="M535.8 589.66 L540.5 589.66 L540.5 615.32" stroke="#000" stroke-width="1.2" fill="none" stroke-linejoin="miter"/>
<path d="M534.5 615.32 L544.5 615.32 L544.5 631.37 L539.8 631.37" stroke="#000" stroke-width="1.2" fill="none" stroke-linejoin="miter"/>
<circle cx="529.9" cy="607.22" r="1.1" stroke="#000" stroke-width="0.8" fill="#000"/>
<circle cx="529.9" cy="611.72" r="1.1" stroke="#000" stroke-width="0.8" fill="#000"/>
<circle cx="545.1" cy="601.34" r="1.1" stroke="#000" stroke-width="0.8" fill="#000"/>
<circle cx="545.1" cy="605.84" r="1.1" stroke="#000" stroke-width="0.8" fill="#000"/>
<circle cx="548.9" cy="621.44" r="1.1" stroke="#000" stroke-width="0.8" fill="#000"/>
<circle cx="548.9" cy="625.94" r="1.1" stroke="#000" stroke-width="0.8" fill="#000"/>
<text x="149.6" y="618.2" font-size="9.7" text-anchor="middle" font-weight="bold" transform="rotate(-90 149.6 618.2)">Cell viability</text>
<text x="161.6" y="617.4" font-size="10.2" text-anchor="middle" font-weight="bold" transform="rotate(-90 161.6 617.4)">(absorbance 540 nm)</text>
<line x1="546.7" y1="557.4" x2="559.5" y2="557.4" stroke="#e3236f" stroke-width="1.4"/>
<circle cx="553.1" cy="557.4" r="2.5" stroke="#e3236f" stroke-width="1.8" fill="#f3a9c6"/>
<line x1="546.7" y1="567.6" x2="559.5" y2="567.6" stroke="#1414d4" stroke-width="1.4"/>
<circle cx="553.1" cy="567.6" r="2.6" stroke="#1414d4" stroke-width="0.6" fill="#1414d4"/>
<line x1="546.7" y1="578.2" x2="559.5" y2="578.2" stroke="#f29a38" stroke-width="1.4"/>
<path d="M553.1 574.8 L556.4 580.8 L549.8 580.8 Z" stroke="#f29a38" stroke-width="1.7" fill="#f8c990" stroke-linejoin="miter"/>
<text x="567.1" y="559.7" font-size="6.6" font-weight="bold">Mock</text>
<text x="567.1" y="569.9" font-size="6.5" font-weight="bold">NKX6.3</text>
<text x="567.1" y="580.5" font-size="6.45" font-weight="bold">NKX6.3+siHace1</text>
<text x="88.5" y="813.7" font-size="24.5" font-weight="bold">E</text>
<line x1="145.2" y1="843.9" x2="145.2" y2="992.9" stroke="#000" stroke-width="1.8"/>
<line x1="141.4" y1="992" x2="145.2" y2="992" stroke="#000" stroke-width="1.8"/>
<text x="139.8" y="995.78" font-size="10.8" text-anchor="end" font-weight="bold">0</text>
<line x1="141.4" y1="955.2" x2="145.2" y2="955.2" stroke="#000" stroke-width="1.8"/>
<text x="139.8" y="958.98" font-size="10.8" text-anchor="end" font-weight="bold">1</text>
<line x1="141.4" y1="918.4" x2="145.2" y2="918.4" stroke="#000" stroke-width="1.8"/>
<text x="139.8" y="922.18" font-size="10.8" text-anchor="end" font-weight="bold">2</text>
<line x1="141.4" y1="881.6" x2="145.2" y2="881.6" stroke="#000" stroke-width="1.8"/>
<text x="139.8" y="885.38" font-size="10.8" text-anchor="end" font-weight="bold">3</text>
<line x1="141.4" y1="844.8" x2="145.2" y2="844.8" stroke="#000" stroke-width="1.8"/>
<text x="139.8" y="848.58" font-size="10.8" text-anchor="end" font-weight="bold">4</text>
<line x1="141.4" y1="992" x2="272.5" y2="992" stroke="#000" stroke-width="1.9"/>
<line x1="165.5" y1="992" x2="165.5" y2="996.2" stroke="#000" stroke-width="1.5"/>
<line x1="196.3" y1="992" x2="196.3" y2="996.2" stroke="#000" stroke-width="1.5"/>
<line x1="227" y1="992" x2="227" y2="996.2" stroke="#000" stroke-width="1.5"/>
<line x1="257.8" y1="992" x2="257.8" y2="996.2" stroke="#000" stroke-width="1.5"/>
<rect x="155.25" y="955.51" width="20.5" height="36.49" fill="#fff" stroke="#000" stroke-width="2.1"/>
<rect x="186.05" y="898.84" width="20.5" height="93.16" fill="#fff" stroke="#000" stroke-width="2.1"/>
<rect x="216.75" y="955.51" width="20.5" height="36.49" fill="#fff" stroke="#000" stroke-width="2.1"/>
<rect x="247.55" y="886.33" width="20.5" height="105.67" fill="#fff" stroke="#000" stroke-width="2.1"/>
<line x1="165.5" y1="952.1" x2="165.5" y2="958.3" stroke="#000" stroke-width="1.5"/>
<line x1="160.5" y1="952.1" x2="170.5" y2="952.1" stroke="#000" stroke-width="1.5"/>
<line x1="160.5" y1="958.3" x2="170.5" y2="958.3" stroke="#000" stroke-width="1.5"/>
<line x1="196.3" y1="892" x2="196.3" y2="905.9" stroke="#000" stroke-width="1.5"/>
<line x1="191.3" y1="892" x2="201.3" y2="892" stroke="#000" stroke-width="1.5"/>
<line x1="191.3" y1="905.9" x2="201.3" y2="905.9" stroke="#000" stroke-width="1.5"/>
<line x1="227" y1="952.1" x2="227" y2="958.3" stroke="#000" stroke-width="1.5"/>
<line x1="222" y1="952.1" x2="232" y2="952.1" stroke="#000" stroke-width="1.5"/>
<line x1="222" y1="958.3" x2="232" y2="958.3" stroke="#000" stroke-width="1.5"/>
<line x1="257.8" y1="877" x2="257.8" y2="894.2" stroke="#000" stroke-width="1.5"/>
<line x1="252.8" y1="877" x2="262.8" y2="877" stroke="#000" stroke-width="1.5"/>
<line x1="252.8" y1="894.2" x2="262.8" y2="894.2" stroke="#000" stroke-width="1.5"/>
<circle cx="160.9" cy="958.3" r="3.4" stroke="#1c1cc8" stroke-width="1.6" fill="none"/>
<circle cx="169.9" cy="952.1" r="3.4" stroke="#1c1cc8" stroke-width="1.6" fill="none"/>
<circle cx="196.2" cy="892" r="3.4" stroke="#1c1cc8" stroke-width="1.6" fill="none"/>
<circle cx="196.2" cy="905.9" r="3.4" stroke="#1c1cc8" stroke-width="1.6" fill="none"/>
<circle cx="222.3" cy="958.3" r="3.4" stroke="#1c1cc8" stroke-width="1.6" fill="none"/>
<circle cx="231.3" cy="952.1" r="3.4" stroke="#1c1cc8" stroke-width="1.6" fill="none"/>
<circle cx="257.8" cy="877" r="3.4" stroke="#1c1cc8" stroke-width="1.6" fill="none"/>
<circle cx="257.8" cy="894.2" r="3.4" stroke="#1c1cc8" stroke-width="1.6" fill="none"/>
<text x="180.5" y="840.1" font-size="11.5" text-anchor="middle" font-weight="bold">AGS</text>
<text x="241.4" y="840" font-size="11.5" text-anchor="middle" font-weight="bold">MKN1</text>
<line x1="164.1" y1="846.9" x2="195.9" y2="846.9" stroke="#000" stroke-width="1.4"/>
<line x1="227" y1="846.3" x2="256.7" y2="846.3" stroke="#000" stroke-width="1.4"/>
<path d="M165 868.4 L165 862.9 L197.3 862.9 L197.3 868.4" stroke="#000" stroke-width="1.4" fill="none" stroke-linejoin="miter"/>
<path d="M226 868.4 L226 863 L258.1 863 L258.1 868.4" stroke="#000" stroke-width="1.4" fill="none" stroke-linejoin="miter"/>
<path d="M181 856.66 L181.59 858.08 L183.13 858.21 L181.96 859.21 L182.32 860.71 L181 859.91 L179.68 860.71 L180.04 859.21 L178.87 858.21 L180.41 858.08 Z" stroke="#000" stroke-width="0.5" fill="#000" stroke-linejoin="miter"/>
<path d="M242 856.66 L242.59 858.08 L244.13 858.21 L242.96 859.21 L243.32 860.71 L242 859.91 L240.68 860.71 L241.04 859.21 L239.87 858.21 L241.41 858.08 Z" stroke="#000" stroke-width="0.5" fill="#000" stroke-linejoin="miter"/>
<text x="170.2" y="1006.2" font-size="11.5" text-anchor="end" font-weight="bold" transform="rotate(-45 170.2 1006.2)">Mock</text>
<text x="201" y="1006.2" font-size="11.5" text-anchor="end" font-weight="bold" transform="rotate(-45 201 1006.2)">NKX6.3</text>
<text x="231.7" y="1006.2" font-size="11.5" text-anchor="end" font-weight="bold" transform="rotate(-45 231.7 1006.2)">Mock</text>
<text x="262.5" y="1006.2" font-size="11.5" text-anchor="end" font-weight="bold" transform="rotate(-45 262.5 1006.2)">NKX6.3</text>
<text x="112.3" y="917.4" font-size="12.1" font-weight="bold" text-anchor="middle" transform="rotate(-90 112.3 917.4)">Relative <tspan font-style="italic">Hace1</tspan> mRNA expression</text>
<text x="127" y="918.4" font-size="12.2" text-anchor="middle" font-weight="bold" transform="rotate(-90 127 918.4)">(Fold change)</text>
<text x="412" y="761.5" font-size="24.5" font-weight="bold">F</text>
<text x="496" y="753.9" font-size="14.6" text-anchor="middle">AGS</text>
<text x="611.6" y="753.9" font-size="14.6" text-anchor="middle">MKN1</text>
<line x1="465.4" y1="761" x2="528.2" y2="761" stroke="#000" stroke-width="2.6"/>
<line x1="581.2" y1="760.6" x2="643.9" y2="760.6" stroke="#000" stroke-width="2.6"/>
<text x="472.6" y="819.2" font-size="14.4" transform="rotate(-90 472.6 819.2)">Mock</text>
<text x="534.1" y="819.2" font-size="14.2" transform="rotate(-90 534.1 819.2)">NKX6.3</text>
<text x="591.4" y="819.2" font-size="14.4" transform="rotate(-90 591.4 819.2)">Mock</text>
<text x="648.3" y="819.2" font-size="14.2" transform="rotate(-90 648.3 819.2)">NKX6.3</text>
<line x1="453.5" y1="824.8" x2="482.6" y2="824.8" stroke="#000" stroke-width="2.6"/>
<line x1="514.2" y1="824.8" x2="542.8" y2="824.8" stroke="#000" stroke-width="2.6"/>
<line x1="571.4" y1="824.8" x2="600.7" y2="824.8" stroke="#000" stroke-width="2.6"/>
<line x1="627.6" y1="824.8" x2="656.8" y2="824.8" stroke="#000" stroke-width="2.6"/>
<text x="452.6" y="845" font-size="13.6" text-anchor="middle" font-weight="bold">U</text>
<text x="514.9" y="845" font-size="13.6" text-anchor="middle" font-weight="bold">U</text>
<text x="572.2" y="845" font-size="13.6" text-anchor="middle" font-weight="bold">U</text>
<text x="628" y="845" font-size="13.6" text-anchor="middle" font-weight="bold">U</text>
<text x="482" y="845" font-size="13.6" text-anchor="middle" font-weight="bold">M</text>
<text x="541.6" y="845" font-size="13.6" text-anchor="middle" font-weight="bold">M</text>
<text x="599" y="845" font-size="13.6" text-anchor="middle" font-weight="bold">M</text>
<text x="657.9" y="845" font-size="13.6" text-anchor="middle" font-weight="bold">M</text>
<rect x="407.3" y="851.1" width="265.6" height="33.1" fill="#0a0a0a"/>
<g filter="url(#gb)">
<rect x="417.5" y="851.2" width="15" height="1.2" fill="#6a6a6a"/>
<rect x="416.3" y="854.1" width="17.2" height="1.6" fill="#c8c8c8"/>
<rect x="416.3" y="858.5" width="17.2" height="1.6" fill="#d0d0d0"/>
<rect x="416.3" y="863.7" width="17.2" height="1.4" fill="#4a4a4a"/>
<rect x="416.3" y="869.35" width="17.2" height="1.3" fill="#2e2e2e"/>
<rect x="416.3" y="873.25" width="17.2" height="1.3" fill="#222222"/>
<rect x="416.3" y="876.75" width="17.2" height="1.3" fill="#1e1e1e"/>
<rect x="471.7" y="864.8" width="19.3" height="2.4" fill="#f0f0f0" rx="1.2"/>
<rect x="503.7" y="864.6" width="19.3" height="2.4" fill="#eeeeee" rx="1.2"/>
<rect x="531.7" y="865.1" width="18.6" height="1.8" fill="#a8a8a8" rx="0.9"/>
<rect x="589.1" y="865.15" width="17.8" height="2.3" fill="#e8e8e8" rx="1.15"/>
<rect x="618.7" y="863.85" width="18.7" height="2.7" fill="#f8f8f8" rx="1.35"/>
<rect x="647.7" y="865.6" width="18.1" height="1.8" fill="#b0b0b0" rx="0.9"/>
</g>
<line x1="501.1" y1="928.8" x2="501.1" y2="1078.5" stroke="#000" stroke-width="1.8"/>
<line x1="497.3" y1="1077.6" x2="501.1" y2="1077.6" stroke="#000" stroke-width="1.8"/>
<text x="495.9" y="1082.31" font-size="10.6" text-anchor="end" font-weight="bold">0.0</text>
<line x1="497.3" y1="1028.3" x2="501.1" y2="1028.3" stroke="#000" stroke-width="1.8"/>
<text x="495.9" y="1033.01" font-size="10.6" text-anchor="end" font-weight="bold">0.5</text>
<line x1="497.3" y1="979" x2="501.1" y2="979" stroke="#000" stroke-width="1.8"/>
<text x="495.9" y="983.71" font-size="10.6" text-anchor="end" font-weight="bold">1.0</text>
<line x1="497.3" y1="929.7" x2="501.1" y2="929.7" stroke="#000" stroke-width="1.8"/>
<text x="495.9" y="934.41" font-size="10.6" text-anchor="end" font-weight="bold">1.5</text>
<line x1="497.2" y1="1077.6" x2="635.8" y2="1077.6" stroke="#000" stroke-width="1.9"/>
<line x1="521.6" y1="1077.6" x2="521.6" y2="1081.8" stroke="#000" stroke-width="1.5"/>
<line x1="552.4" y1="1077.6" x2="552.4" y2="1081.8" stroke="#000" stroke-width="1.5"/>
<line x1="583.4" y1="1077.6" x2="583.4" y2="1081.8" stroke="#000" stroke-width="1.5"/>
<line x1="614" y1="1077.6" x2="614" y2="1081.8" stroke="#000" stroke-width="1.5"/>
<rect x="511.65" y="980.05" width="19.9" height="97.55" fill="#fff" stroke="#000" stroke-width="2.1"/>
<rect x="542.45" y="1066.03" width="19.9" height="11.57" fill="#fff" stroke="#000" stroke-width="2.1"/>
<rect x="573.45" y="980.05" width="19.9" height="97.55" fill="#fff" stroke="#000" stroke-width="2.1"/>
<rect x="604.05" y="1059.92" width="19.9" height="17.68" fill="#fff" stroke="#000" stroke-width="2.1"/>
<line x1="521.6" y1="970.9" x2="521.6" y2="987.6" stroke="#000" stroke-width="1.5"/>
<line x1="516.6" y1="970.9" x2="526.6" y2="970.9" stroke="#000" stroke-width="1.5"/>
<line x1="516.6" y1="987.6" x2="526.6" y2="987.6" stroke="#000" stroke-width="1.5"/>
<line x1="552.4" y1="1062.8" x2="552.4" y2="1069.2" stroke="#000" stroke-width="1.5"/>
<line x1="547.4" y1="1062.8" x2="557.4" y2="1062.8" stroke="#000" stroke-width="1.5"/>
<line x1="547.4" y1="1069.2" x2="557.4" y2="1069.2" stroke="#000" stroke-width="1.5"/>
<line x1="583.4" y1="972.3" x2="583.4" y2="986.7" stroke="#000" stroke-width="1.5"/>
<line x1="578.4" y1="972.3" x2="588.4" y2="972.3" stroke="#000" stroke-width="1.5"/>
<line x1="578.4" y1="986.7" x2="588.4" y2="986.7" stroke="#000" stroke-width="1.5"/>
<line x1="614" y1="1053.4" x2="614" y2="1066.4" stroke="#000" stroke-width="1.5"/>
<line x1="609" y1="1053.4" x2="619" y2="1053.4" stroke="#000" stroke-width="1.5"/>
<line x1="609" y1="1066.4" x2="619" y2="1066.4" stroke="#000" stroke-width="1.5"/>
<circle cx="521.5" cy="970.9" r="3.1" stroke="#1c1cc8" stroke-width="1.5" fill="none"/>
<circle cx="521.5" cy="987.6" r="3.1" stroke="#1c1cc8" stroke-width="1.5" fill="none"/>
<circle cx="547.9" cy="1069" r="3.1" stroke="#1c1cc8" stroke-width="1.5" fill="none"/>
<circle cx="556.9" cy="1062.8" r="3.1" stroke="#1c1cc8" stroke-width="1.5" fill="none"/>
<circle cx="583.3" cy="972.3" r="3.1" stroke="#1c1cc8" stroke-width="1.5" fill="none"/>
<circle cx="583.3" cy="986.7" r="3.1" stroke="#1c1cc8" stroke-width="1.5" fill="none"/>
<circle cx="614" cy="1053.4" r="3.1" stroke="#1c1cc8" stroke-width="1.5" fill="none"/>
<circle cx="614" cy="1066.4" r="3.1" stroke="#1c1cc8" stroke-width="1.5" fill="none"/>
<text x="537" y="926.8" font-size="11.6" text-anchor="middle" font-weight="bold">AGS</text>
<text x="597.3" y="925.5" font-size="11.6" text-anchor="middle" font-weight="bold">MKN1</text>
<line x1="520.2" y1="932" x2="552.5" y2="932" stroke="#000" stroke-width="1.4"/>
<line x1="583.1" y1="931.5" x2="613.1" y2="931.5" stroke="#000" stroke-width="1.4"/>
<path d="M521.2 954.5 L521.2 949.1 L553.3 949.1 L553.3 954.5" stroke="#000" stroke-width="1.4" fill="none" stroke-linejoin="miter"/>
<path d="M581.5 954.5 L581.5 949.1 L614.4 949.1 L614.4 954.5" stroke="#000" stroke-width="1.4" fill="none" stroke-linejoin="miter"/>
<path d="M537 942.56 L537.59 943.98 L539.13 944.11 L537.96 945.11 L538.32 946.61 L537 945.81 L535.68 946.61 L536.04 945.11 L534.87 944.11 L536.41 943.98 Z" stroke="#000" stroke-width="0.5" fill="#000" stroke-linejoin="miter"/>
<path d="M598.9 942.56 L599.49 943.98 L601.03 944.11 L599.86 945.11 L600.22 946.61 L598.9 945.81 L597.58 946.61 L597.94 945.11 L596.77 944.11 L598.31 943.98 Z" stroke="#000" stroke-width="0.5" fill="#000" stroke-linejoin="miter"/>
<text x="526.3" y="1091.8" font-size="11.5" text-anchor="end" font-weight="bold" transform="rotate(-45 526.3 1091.8)">Mock</text>
<text x="557.1" y="1091.8" font-size="11.5" text-anchor="end" font-weight="bold" transform="rotate(-45 557.1 1091.8)">NKX6.3</text>
<text x="588.1" y="1091.8" font-size="11.5" text-anchor="end" font-weight="bold" transform="rotate(-45 588.1 1091.8)">Mock</text>
<text x="618.7" y="1091.8" font-size="11.5" text-anchor="end" font-weight="bold" transform="rotate(-45 618.7 1091.8)">NKX6.3</text>
<text x="460.0" y="1003.8" font-size="12.1" font-weight="bold" text-anchor="middle" transform="rotate(-90 460.0 1003.8)">Relative <tspan font-style="italic">Hace1</tspan> promoter methylation</text>
<text x="474.4" y="1003.9" font-size="12.2" text-anchor="middle" font-weight="bold" transform="rotate(-90 474.4 1003.9)">(Fold change)</text>
</svg>
</body></html>
